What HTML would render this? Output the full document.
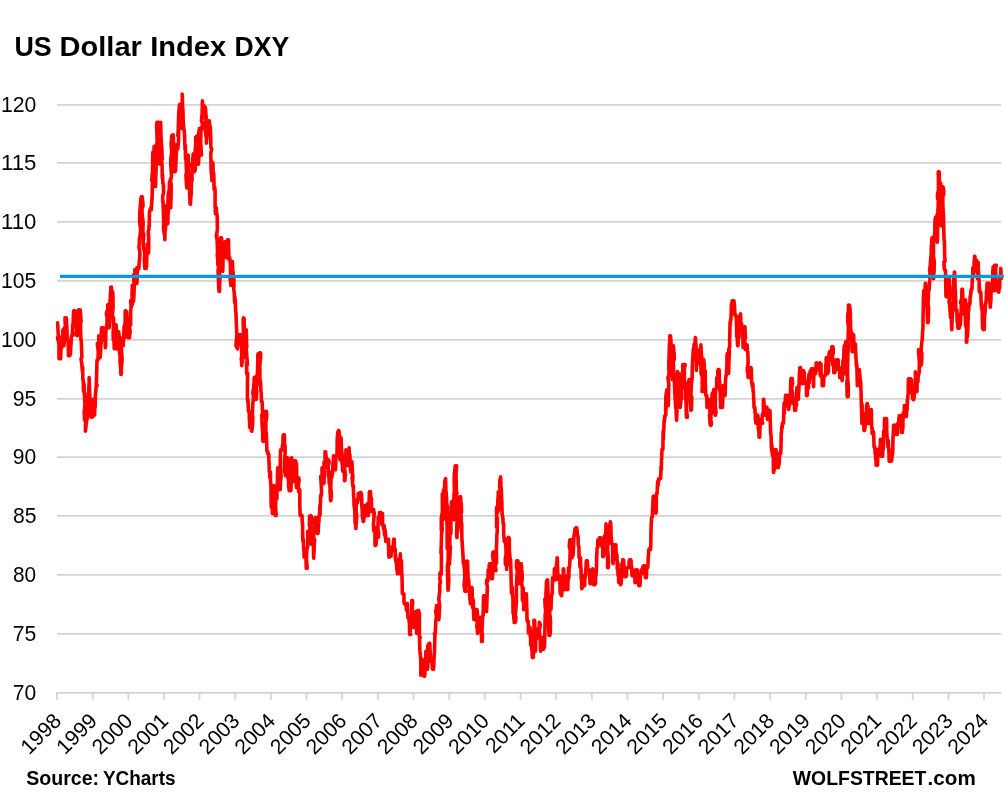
<!DOCTYPE html>
<html lang="en"><head><meta charset="utf-8"><title>US Dollar Index DXY</title>
<style>
html,body{margin:0;padding:0;background:#fff;}
body{width:1004px;height:804px;overflow:hidden;}
svg{display:block;}
text{font-family:"Liberation Sans",sans-serif;fill:#000;}
.b{font-weight:bold;}
</style></head><body>
<svg width="1004" height="804" viewBox="0 0 1004 804">
<rect width="1004" height="804" fill="#fff"/>
<g stroke="#d3d3d3" stroke-width="1.75" fill="none">
<line x1="57" x2="1001" y1="633.8" y2="633.8"/>
<line x1="57" x2="1001" y1="574.8" y2="574.8"/>
<line x1="57" x2="1001" y1="515.9" y2="515.9"/>
<line x1="57" x2="1001" y1="457.0" y2="457.0"/>
<line x1="57" x2="1001" y1="398.9" y2="398.9"/>
<line x1="57" x2="1001" y1="339.9" y2="339.9"/>
<line x1="57" x2="1001" y1="280.9" y2="280.9"/>
<line x1="57" x2="1001" y1="221.8" y2="221.8"/>
<line x1="57" x2="1001" y1="162.8" y2="162.8"/>
<line x1="57" x2="1001" y1="104.8" y2="104.8"/>
</g>
<g stroke="#d3d3d3" stroke-width="1.75" fill="none">
<line x1="56.05" x2="1001" y1="692.8" y2="692.8"/>
<line x1="57.0" x2="57.0" y1="692.8" y2="699.8"/>
<line x1="92.7" x2="92.7" y1="692.8" y2="699.8"/>
<line x1="128.3" x2="128.3" y1="692.8" y2="699.8"/>
<line x1="164.0" x2="164.0" y1="692.8" y2="699.8"/>
<line x1="199.6" x2="199.6" y1="692.8" y2="699.8"/>
<line x1="235.3" x2="235.3" y1="692.8" y2="699.8"/>
<line x1="270.9" x2="270.9" y1="692.8" y2="699.8"/>
<line x1="306.6" x2="306.6" y1="692.8" y2="699.8"/>
<line x1="342.2" x2="342.2" y1="692.8" y2="699.8"/>
<line x1="377.9" x2="377.9" y1="692.8" y2="699.8"/>
<line x1="413.5" x2="413.5" y1="692.8" y2="699.8"/>
<line x1="449.2" x2="449.2" y1="692.8" y2="699.8"/>
<line x1="484.8" x2="484.8" y1="692.8" y2="699.8"/>
<line x1="520.5" x2="520.5" y1="692.8" y2="699.8"/>
<line x1="556.2" x2="556.2" y1="692.8" y2="699.8"/>
<line x1="591.8" x2="591.8" y1="692.8" y2="699.8"/>
<line x1="627.5" x2="627.5" y1="692.8" y2="699.8"/>
<line x1="663.1" x2="663.1" y1="692.8" y2="699.8"/>
<line x1="698.8" x2="698.8" y1="692.8" y2="699.8"/>
<line x1="734.4" x2="734.4" y1="692.8" y2="699.8"/>
<line x1="770.1" x2="770.1" y1="692.8" y2="699.8"/>
<line x1="805.7" x2="805.7" y1="692.8" y2="699.8"/>
<line x1="841.4" x2="841.4" y1="692.8" y2="699.8"/>
<line x1="877.0" x2="877.0" y1="692.8" y2="699.8"/>
<line x1="912.7" x2="912.7" y1="692.8" y2="699.8"/>
<line x1="948.4" x2="948.4" y1="692.8" y2="699.8"/>
<line x1="984.0" x2="984.0" y1="692.8" y2="699.8"/>
</g>
<text class="b" y="56.4" font-size="28.2"><tspan x="14.43" textLength="37.30" lengthAdjust="spacingAndGlyphs">US</tspan> <tspan x="59.63" textLength="82.20" lengthAdjust="spacingAndGlyphs">Dollar</tspan> <tspan x="150.24" textLength="75.92" lengthAdjust="spacingAndGlyphs">Index</tspan> <tspan x="234.58" textLength="54.70" lengthAdjust="spacingAndGlyphs">DXY</tspan></text>
<text class="b" y="784.6" font-size="20"><tspan x="26.29" textLength="72.84" lengthAdjust="spacingAndGlyphs">Source:</tspan> <tspan x="102.88" textLength="72.63" lengthAdjust="spacingAndGlyphs">YCharts</tspan></text>
<text class="b" y="784.6" font-size="20"><tspan x="792.84" textLength="133.51" lengthAdjust="spacingAndGlyphs">WOLFSTREET</tspan><tspan x="927.64" textLength="48.13" lengthAdjust="spacingAndGlyphs">.com</tspan></text>
<text x="12.80" y="699.9" font-size="21.2" textLength="23.45" lengthAdjust="spacingAndGlyphs">70</text>
<text x="12.80" y="640.9" font-size="21.2" textLength="23.59" lengthAdjust="spacingAndGlyphs">75</text>
<text x="13.04" y="581.9" font-size="21.2" textLength="23.17" lengthAdjust="spacingAndGlyphs">80</text>
<text x="13.05" y="523.0" font-size="21.2" textLength="23.48" lengthAdjust="spacingAndGlyphs">85</text>
<text x="12.79" y="464.1" font-size="21.2" textLength="23.44" lengthAdjust="spacingAndGlyphs">90</text>
<text x="12.79" y="406.0" font-size="21.2" textLength="23.53" lengthAdjust="spacingAndGlyphs">95</text>
<text x="1.03" y="347.0" font-size="21.2" textLength="35.38" lengthAdjust="spacingAndGlyphs">100</text>
<text x="1.02" y="288.0" font-size="21.2" textLength="35.29" lengthAdjust="spacingAndGlyphs">105</text>
<text x="0.99" y="228.9" font-size="21.2" textLength="35.32" lengthAdjust="spacingAndGlyphs">110</text>
<text x="0.94" y="169.9" font-size="21.2" textLength="35.51" lengthAdjust="spacingAndGlyphs">115</text>
<text x="1.03" y="111.8" font-size="21.2" textLength="35.38" lengthAdjust="spacingAndGlyphs">120</text>
<g font-size="21.2" text-anchor="end">
<text transform="translate(62.6,722.1) rotate(-45)">1998</text>
<text transform="translate(98.3,722.1) rotate(-45)">1999</text>
<text transform="translate(133.9,722.1) rotate(-45)">2000</text>
<text transform="translate(169.6,722.1) rotate(-45)">2001</text>
<text transform="translate(205.2,722.1) rotate(-45)">2002</text>
<text transform="translate(240.9,722.1) rotate(-45)">2003</text>
<text transform="translate(276.5,722.1) rotate(-45)">2004</text>
<text transform="translate(312.2,722.1) rotate(-45)">2005</text>
<text transform="translate(347.8,722.1) rotate(-45)">2006</text>
<text transform="translate(383.5,722.1) rotate(-45)">2007</text>
<text transform="translate(419.1,722.1) rotate(-45)">2008</text>
<text transform="translate(454.8,722.1) rotate(-45)">2009</text>
<text transform="translate(490.4,722.1) rotate(-45)">2010</text>
<text transform="translate(526.1,722.1) rotate(-45)">2011</text>
<text transform="translate(561.8,722.1) rotate(-45)">2012</text>
<text transform="translate(597.4,722.1) rotate(-45)">2013</text>
<text transform="translate(633.1,722.1) rotate(-45)">2014</text>
<text transform="translate(668.7,722.1) rotate(-45)">2015</text>
<text transform="translate(704.4,722.1) rotate(-45)">2016</text>
<text transform="translate(740.0,722.1) rotate(-45)">2017</text>
<text transform="translate(775.7,722.1) rotate(-45)">2018</text>
<text transform="translate(811.3,722.1) rotate(-45)">2019</text>
<text transform="translate(847.0,722.1) rotate(-45)">2020</text>
<text transform="translate(882.6,722.1) rotate(-45)">2021</text>
<text transform="translate(918.3,722.1) rotate(-45)">2022</text>
<text transform="translate(954.0,722.1) rotate(-45)">2023</text>
<text transform="translate(989.6,722.1) rotate(-45)">2024</text>
</g>
<path d="M57.6,322.8 L57.9,327.6 L58.2,334.1 L58.5,337.4 L57.6,337.4 L57.8,339.7 L58.0,339.1 L59.0,344.3 L59.0,356.5 L59.0,358.6 L59.1,357.4 L59.3,358.6 L59.5,358.6 L59.6,358.6 L59.8,358.6 L60.0,358.6 L60.1,358.6 L60.3,358.6 L60.4,358.6 L60.6,358.6 L60.8,355.6 L60.9,347.7 L61.1,347.7 L61.3,343.0 L61.4,346.4 L61.6,347.7 L61.8,347.7 L61.9,337.8 L62.1,336.7 L62.3,338.3 L62.4,340.7 L62.6,334.1 L62.8,333.3 L62.9,329.8 L63.1,329.8 L63.3,337.0 L63.4,335.4 L63.6,338.2 L63.8,345.7 L63.9,345.7 L64.2,342.7 L64.5,341.0 L64.7,339.0 L64.2,330.0 L64.3,328.1 L64.4,333.2 L65.6,322.4 L65.8,324.8 L65.9,323.1 L65.0,317.8 L65.3,325.9 L65.5,327.8 L66.2,318.9 L66.3,317.8 L66.3,317.8 L66.5,318.7 L66.6,324.3 L66.8,325.8 L67.0,331.4 L67.1,339.7 L67.3,339.4 L67.4,339.7 L67.6,339.7 L67.8,339.7 L67.9,339.7 L68.1,339.9 L68.2,342.2 L68.4,350.6 L68.5,355.6 L68.7,355.6 L68.8,355.4 L69.0,355.6 L69.1,354.8 L69.3,355.6 L69.5,353.0 L69.6,355.6 L69.8,355.6 L69.9,355.5 L70.1,351.4 L70.3,347.9 L70.4,354.1 L70.6,349.6 L70.7,345.9 L70.9,345.7 L71.1,343.5 L71.2,341.0 L71.4,335.7 L71.5,335.7 L71.7,335.7 L71.8,335.7 L72.0,335.7 L72.1,335.7 L72.3,335.7 L72.7,331.6 L73.1,335.2 L73.3,333.0 L72.4,334.0 L72.7,324.6 L73.1,324.3 L73.5,312.8 L73.6,310.8 L73.8,310.8 L73.9,310.8 L74.1,310.8 L74.3,312.0 L74.4,310.8 L74.6,310.8 L74.7,310.8 L74.9,310.8 L75.2,312.3 L75.5,313.6 L75.8,319.8 L75.1,325.1 L75.2,321.8 L75.3,323.8 L76.6,326.4 L76.7,323.0 L76.8,326.8 L76.3,324.5 L76.6,332.3 L76.9,335.7 L77.2,335.7 L77.5,334.6 L77.8,334.8 L77.0,324.6 L77.1,319.2 L77.3,322.0 L78.4,312.8 L78.5,316.6 L78.5,312.8 L78.5,312.8 L78.6,309.9 L78.8,311.1 L78.9,311.1 L79.1,309.9 L79.3,309.9 L79.4,312.8 L79.6,312.8 L79.8,312.1 L79.9,310.6 L80.1,309.9 L80.2,309.9 L80.6,313.4 L80.9,319.6 L81.1,321.7 L80.2,324.8 L80.5,324.3 L80.8,337.7 L81.3,341.9 L81.7,352.2 L81.9,357.3 L81.0,358.5 L81.4,361.7 L81.8,363.6 L82.0,367.4 L82.2,369.1 L82.3,371.2 L82.5,367.3 L82.7,366.7 L82.8,379.5 L83.0,379.5 L83.1,379.5 L83.3,381.9 L83.5,391.4 L83.6,388.3 L83.8,390.5 L83.9,390.4 L84.1,384.1 L84.2,391.4 L84.5,396.9 L84.8,402.9 L85.1,404.4 L84.2,412.5 L84.4,415.1 L84.5,419.9 L85.5,419.4 L85.5,418.3 L85.4,431.2 L85.6,427.7 L85.7,428.6 L85.9,427.7 L86.0,424.6 L86.2,421.1 L86.4,423.8 L86.5,421.4 L86.7,419.9 L86.8,419.3 L87.0,419.3 L87.1,419.3 L87.3,418.3 L87.5,410.7 L87.6,399.4 L87.8,399.4 L88.0,399.4 L88.1,394.5 L88.3,392.8 L88.4,392.4 L88.6,392.3 L88.7,392.6 L88.9,385.4 L89.0,389.1 L89.2,377.5 L89.4,383.2 L89.5,386.9 L89.7,392.7 L89.9,399.4 L90.1,399.4 L90.2,399.4 L90.4,399.4 L90.6,409.7 L90.7,410.0 L90.9,415.8 L91.1,417.3 L91.2,417.3 L91.4,417.3 L91.5,417.3 L91.7,417.3 L91.9,417.3 L92.0,417.3 L92.2,417.3 L92.3,411.4 L92.5,411.6 L92.6,407.3 L92.8,399.4 L92.9,406.6 L93.1,410.7 L93.2,416.3 L93.4,416.3 L93.5,412.8 L93.7,407.4 L93.8,407.4 L94.0,407.4 L94.2,407.4 L94.3,407.4 L94.5,407.4 L94.6,414.9 L94.8,407.4 L94.9,407.4 L95.1,407.4 L95.2,405.6 L95.4,395.6 L95.6,391.1 L95.7,393.1 L95.9,390.7 L96.0,389.1 L96.2,385.5 L96.6,385.5 L96.9,385.5 L97.2,385.5 L96.3,384.6 L96.6,376.0 L97.0,360.3 L97.4,359.6 L97.7,359.6 L98.0,359.6 L98.3,351.7 L97.4,343.5 L97.6,346.7 L97.8,344.6 L98.8,341.8 L98.8,338.5 L98.8,335.7 L98.9,342.6 L99.1,348.0 L99.2,351.6 L99.4,348.3 L99.5,353.5 L99.7,352.1 L99.8,357.6 L100.0,356.0 L100.1,357.6 L100.6,352.2 L100.9,339.5 L101.2,343.5 L100.3,346.2 L100.6,338.2 L100.9,337.1 L101.3,333.7 L101.5,327.8 L101.7,327.8 L101.8,327.8 L102.0,327.8 L102.2,327.8 L102.3,327.8 L102.5,327.8 L102.7,327.8 L102.8,327.8 L103.0,327.8 L103.2,330.7 L103.3,327.8 L103.5,327.8 L103.7,327.8 L103.8,327.8 L104.0,330.1 L104.2,335.2 L104.3,339.0 L104.5,339.8 L104.7,341.1 L104.8,339.8 L105.0,338.8 L105.2,339.2 L105.3,347.7 L105.5,346.1 L105.7,341.2 L105.8,333.4 L106.0,327.8 L106.2,329.6 L106.3,327.8 L106.7,326.4 L107.0,322.7 L107.3,314.9 L106.4,312.8 L106.6,315.9 L106.8,312.0 L107.8,309.0 L107.7,306.0 L107.7,304.9 L108.1,304.9 L108.4,304.9 L108.7,304.9 L107.8,308.5 L107.9,307.7 L108.2,314.2 L109.1,326.0 L109.1,327.7 L109.1,327.8 L109.5,323.6 L109.9,318.4 L110.2,307.7 L109.3,305.0 L109.5,310.9 L109.9,304.2 L110.3,297.9 L110.5,291.9 L110.6,293.3 L110.8,287.0 L111.0,287.0 L111.2,287.0 L111.3,287.0 L111.5,287.0 L111.7,291.9 L111.8,291.9 L112.0,291.9 L112.2,291.9 L112.3,291.9 L112.5,291.9 L112.7,291.9 L112.9,294.0 L113.1,306.8 L112.3,316.7 L112.3,316.1 L112.4,316.0 L113.5,317.9 L113.5,324.1 L113.4,327.6 L113.1,333.4 L113.3,339.7 L113.4,339.7 L113.6,339.7 L113.7,339.9 L113.9,339.8 L114.1,342.8 L114.2,348.7 L114.4,348.7 L114.5,348.7 L114.7,348.7 L115.0,348.7 L115.3,340.1 L115.6,332.3 L114.8,337.0 L114.9,340.8 L115.1,340.0 L116.1,330.6 L116.1,328.5 L116.1,324.8 L116.4,331.4 L116.7,346.9 L117.0,348.7 L116.2,348.7 L116.3,346.6 L116.5,348.7 L117.6,348.7 L117.7,348.2 L117.7,348.7 L117.7,348.7 L117.8,348.7 L118.0,348.7 L118.2,348.7 L118.3,341.1 L118.5,338.2 L118.7,331.7 L119.0,335.2 L119.3,338.9 L119.6,337.4 L118.7,335.1 L118.9,345.0 L119.1,349.6 L120.1,356.4 L120.1,363.6 L120.0,363.6 L120.2,363.6 L120.4,364.3 L120.6,368.4 L120.7,368.4 L120.9,374.5 L121.1,374.5 L121.2,374.5 L121.6,363.9 L121.9,362.9 L122.1,359.9 L121.2,345.7 L121.4,346.0 L121.7,345.7 L122.0,345.7 L122.2,343.0 L122.4,340.8 L122.5,337.7 L122.7,345.7 L122.8,345.7 L123.0,345.7 L123.2,345.7 L123.3,345.7 L123.5,340.4 L123.6,337.7 L124.0,337.7 L124.3,333.4 L124.6,337.7 L123.7,337.7 L123.9,331.1 L124.1,326.9 L125.2,322.9 L125.2,321.2 L125.2,316.8 L125.2,310.8 L125.4,311.8 L125.5,310.8 L125.7,310.8 L125.8,310.8 L126.0,311.8 L126.2,311.4 L126.3,311.8 L126.5,311.8 L126.6,311.8 L127.0,318.9 L127.3,318.3 L127.6,328.9 L126.7,327.0 L126.8,331.4 L127.1,332.5 L128.1,330.7 L128.0,336.2 L128.0,337.7 L128.2,337.7 L128.4,337.7 L128.5,337.7 L128.7,337.7 L128.9,337.7 L129.0,337.7 L129.2,337.7 L129.5,337.7 L129.9,329.1 L130.1,333.2 L129.3,327.8 L129.4,318.4 L129.7,318.6 L130.6,325.2 L130.6,317.3 L130.6,311.8 L130.9,308.7 L131.2,303.5 L131.5,306.6 L130.7,303.1 L130.8,300.2 L131.0,304.4 L132.2,301.2 L132.3,304.6 L132.3,300.2 L132.0,294.5 L132.3,285.4 L132.5,294.9 L132.7,292.4 L132.9,292.9 L133.0,292.0 L133.2,292.1 L133.4,291.6 L133.5,301.3 L133.9,295.8 L134.2,287.4 L134.5,282.0 L133.6,274.9 L133.8,279.2 L134.0,283.9 L135.0,278.7 L135.0,271.3 L134.9,269.5 L135.1,279.7 L135.3,269.5 L135.4,272.1 L135.6,269.5 L135.8,277.0 L135.9,273.6 L136.1,274.5 L136.3,269.5 L136.4,269.5 L136.6,276.1 L136.7,283.1 L136.9,283.4 L137.1,278.0 L137.2,267.5 L137.4,267.5 L137.6,267.5 L137.7,267.5 L137.9,267.5 L138.1,267.5 L138.2,267.5 L138.4,267.5 L138.6,267.5 L138.7,268.9 L138.9,267.5 L139.3,261.1 L139.6,258.6 L139.9,253.1 L138.9,246.9 L139.2,244.4 L139.5,237.7 L139.9,237.7 L140.2,234.2 L140.4,232.6 L140.6,228.7 L139.6,221.8 L139.8,213.6 L140.0,209.4 L140.6,203.5 L140.5,201.8 L140.7,201.8 L140.8,199.4 L141.0,201.8 L141.1,197.4 L141.3,196.9 L141.5,197.5 L141.6,196.9 L141.8,196.9 L142.0,196.9 L142.1,196.9 L142.3,196.9 L142.5,200.8 L142.8,201.3 L143.0,205.8 L142.0,208.7 L142.1,215.2 L142.2,214.5 L143.1,221.8 L143.0,228.5 L142.9,233.7 L143.2,234.1 L143.5,239.9 L143.8,233.7 L143.1,239.0 L143.2,243.1 L143.3,247.5 L144.6,252.4 L144.7,251.6 L144.8,253.0 L144.3,259.4 L144.6,264.6 L144.9,268.5 L145.0,260.9 L145.2,264.6 L145.4,268.5 L145.5,268.5 L145.7,268.5 L145.9,268.5 L146.0,268.5 L146.2,268.5 L146.4,264.7 L146.5,267.5 L146.7,260.0 L146.9,253.6 L147.2,247.0 L147.5,250.9 L147.8,245.8 L147.1,244.2 L147.2,250.7 L147.3,253.6 L148.6,252.7 L148.7,248.3 L148.7,238.3 L148.2,231.4 L148.5,230.6 L148.9,229.7 L149.0,225.5 L149.2,226.2 L149.4,217.2 L149.5,212.1 L149.7,211.4 L149.9,209.8 L150.0,209.8 L150.2,209.8 L150.3,209.8 L150.5,209.8 L150.7,209.8 L150.8,207.8 L151.0,209.8 L151.2,209.8 L151.3,209.8 L151.5,205.8 L151.7,204.5 L151.8,201.8 L152.2,195.2 L152.4,180.8 L152.6,177.1 L151.6,180.1 L151.8,180.3 L152.1,175.1 L152.4,173.1 L152.5,173.1 L152.7,155.7 L152.8,152.2 L153.0,152.2 L153.1,152.2 L153.3,152.2 L153.4,152.2 L153.6,152.2 L153.7,152.2 L153.9,152.2 L154.0,150.1 L154.2,146.2 L154.4,152.7 L154.7,165.1 L154.9,165.8 L154.0,167.1 L154.1,169.7 L154.2,178.7 L155.3,180.1 L155.2,186.5 L155.2,186.0 L155.1,186.5 L155.2,183.7 L155.4,186.4 L155.5,186.5 L155.7,180.4 L155.8,173.7 L156.0,173.9 L156.1,168.6 L156.3,155.8 L156.6,157.2 L156.7,155.5 L155.9,153.8 L155.9,146.8 L156.0,148.1 L157.1,142.4 L157.1,144.0 L157.0,134.7 L156.6,125.6 L156.9,122.3 L157.0,122.3 L157.2,122.3 L157.4,122.3 L157.5,122.3 L157.7,122.3 L157.8,122.3 L158.0,122.3 L158.2,122.3 L158.3,122.3 L158.5,122.3 L158.7,122.3 L158.9,137.0 L159.2,141.1 L159.4,146.1 L158.5,158.2 L158.6,161.3 L158.7,159.7 L159.7,164.0 L159.7,164.1 L159.6,164.1 L159.6,164.1 L159.8,153.1 L160.1,153.6 L160.3,146.3 L159.4,142.4 L159.5,140.5 L159.7,140.8 L160.7,135.8 L160.7,135.4 L160.7,127.4 L160.6,122.3 L160.7,122.3 L160.9,132.9 L161.0,137.7 L161.2,138.7 L161.3,141.7 L161.8,148.1 L162.2,159.5 L162.3,158.3 L161.6,160.1 L162.1,165.6 L162.2,176.3 L162.4,178.4 L162.5,174.6 L162.7,175.4 L162.8,183.5 L163.2,184.0 L163.4,183.8 L163.6,192.3 L162.6,196.9 L162.8,202.4 L163.1,201.4 L163.4,213.8 L163.7,224.7 L164.0,229.4 L164.3,234.7 L163.5,225.1 L163.6,230.2 L163.8,230.7 L164.8,234.7 L164.8,239.7 L164.8,239.7 L165.1,229.1 L165.4,230.0 L165.7,224.7 L164.9,221.7 L165.0,217.1 L165.2,214.1 L166.2,205.8 L166.2,205.8 L166.2,205.8 L166.3,215.3 L166.5,223.7 L166.6,223.7 L166.8,223.7 L167.0,223.7 L167.1,221.7 L167.3,222.3 L167.4,223.7 L167.6,218.5 L167.8,223.7 L168.1,212.7 L168.4,211.7 L168.7,208.4 L167.9,204.0 L168.0,200.9 L168.2,195.3 L169.3,189.2 L169.4,181.9 L169.4,181.9 L169.4,181.9 L169.7,193.0 L170.0,200.4 L170.3,204.4 L169.4,200.9 L169.6,207.8 L169.8,207.8 L170.8,207.8 L170.8,207.2 L170.7,207.8 L170.9,200.9 L171.1,195.9 L171.2,185.4 L170.4,178.9 L170.3,186.9 L170.3,182.0 L171.5,176.1 L171.4,174.5 L171.4,173.9 L170.7,163.3 L170.9,158.1 L171.0,158.1 L171.4,154.6 L171.8,150.2 L172.0,153.8 L171.1,145.0 L171.4,140.5 L171.7,135.7 L172.1,135.7 L172.3,135.0 L172.4,135.0 L172.6,135.0 L172.8,135.0 L172.9,135.0 L173.1,135.7 L173.3,135.0 L173.6,146.4 L173.8,152.0 L174.0,155.5 L173.1,165.7 L173.2,167.9 L173.3,163.7 L174.2,168.9 L174.1,167.9 L174.0,171.6 L174.2,171.6 L174.4,171.6 L174.5,171.6 L174.7,171.6 L174.9,171.6 L175.0,171.6 L175.2,171.6 L175.4,170.1 L175.5,170.1 L175.9,163.6 L176.3,149.9 L176.5,150.8 L175.6,147.3 L175.8,146.4 L176.2,144.7 L176.6,144.7 L176.7,144.9 L176.9,149.2 L177.1,149.2 L177.2,149.2 L177.4,149.2 L177.6,149.2 L177.8,149.2 L178.2,144.1 L178.5,141.6 L178.7,130.4 L177.8,135.7 L178.1,132.6 L178.5,122.3 L178.7,113.1 L178.8,111.7 L179.0,111.4 L179.2,107.7 L179.3,108.4 L179.5,105.0 L179.7,108.2 L179.8,104.4 L180.0,104.4 L180.5,113.2 L180.8,128.3 L181.0,128.3 L180.3,128.3 L180.7,128.3 L181.1,128.3 L181.4,127.0 L181.7,124.7 L180.9,124.9 L181.0,119.9 L181.3,115.0 L182.3,112.7 L182.3,101.5 L182.2,94.0 L182.4,98.2 L182.5,105.6 L182.7,111.1 L182.8,107.9 L183.0,111.9 L183.1,118.7 L183.3,124.2 L183.4,126.3 L183.6,123.8 L183.7,129.8 L183.9,129.8 L184.1,129.8 L184.2,129.8 L184.4,132.9 L184.6,136.4 L184.8,144.7 L184.9,144.7 L185.1,149.8 L185.2,146.3 L185.4,145.4 L185.5,158.9 L185.7,159.6 L185.8,159.6 L186.0,159.6 L186.3,166.1 L186.6,177.5 L186.8,179.5 L185.9,174.7 L186.1,177.9 L186.4,182.7 L186.7,188.0 L187.1,188.0 L187.4,183.0 L187.7,180.4 L186.8,167.4 L187.0,165.1 L187.2,169.7 L188.2,166.9 L188.2,161.3 L188.2,155.1 L188.6,166.7 L189.0,163.4 L189.3,164.6 L188.4,168.9 L188.6,174.7 L189.0,174.1 L189.4,177.5 L189.8,181.0 L190.1,186.7 L190.4,191.0 L189.5,189.8 L189.7,194.7 L190.1,204.3 L190.4,204.3 L190.8,197.4 L191.1,195.4 L191.4,184.0 L190.6,179.4 L190.7,174.6 L191.0,174.6 L192.0,175.8 L192.0,181.3 L191.9,174.6 L192.1,174.0 L192.3,170.0 L192.4,165.9 L192.6,169.8 L192.8,157.9 L192.9,159.1 L193.1,154.2 L193.3,157.3 L193.4,153.7 L193.6,153.9 L193.7,159.4 L193.9,167.4 L194.0,171.6 L194.2,171.6 L194.3,171.6 L194.5,171.6 L194.8,171.2 L195.2,169.7 L195.4,165.2 L194.5,160.3 L194.7,160.6 L195.0,152.8 L195.7,143.6 L195.7,137.2 L195.8,137.2 L196.0,137.2 L196.2,137.2 L196.3,137.2 L196.5,136.1 L196.7,137.2 L196.8,137.2 L197.0,137.1 L197.2,135.7 L197.6,142.9 L197.9,151.6 L198.2,151.3 L197.3,155.6 L197.6,161.6 L197.9,160.1 L198.4,164.1 L198.7,160.0 L199.0,153.2 L199.3,146.6 L198.3,143.0 L198.5,139.3 L198.8,132.3 L199.5,128.3 L199.4,128.3 L199.8,129.3 L200.1,133.9 L200.4,140.3 L199.5,143.4 L199.7,155.1 L200.1,150.9 L200.4,155.1 L200.9,148.4 L201.2,153.6 L201.5,155.1 L200.6,142.2 L200.9,131.8 L201.2,130.4 L201.6,129.8 L202.0,129.3 L202.3,124.4 L202.5,122.4 L201.5,121.4 L201.7,116.5 L202.0,117.6 L202.4,100.7 L202.5,107.5 L202.7,105.1 L202.8,113.7 L203.0,115.7 L203.1,114.2 L203.3,117.8 L203.4,117.8 L203.6,111.9 L203.7,105.9 L203.9,105.9 L204.0,105.9 L204.2,107.6 L204.3,105.9 L204.5,107.4 L204.6,107.4 L204.8,107.1 L204.9,107.4 L205.1,107.4 L205.2,107.4 L205.4,107.4 L205.7,111.2 L206.0,116.4 L206.3,116.2 L205.3,126.5 L205.5,129.1 L205.8,136.3 L206.5,136.5 L206.4,143.2 L206.8,138.7 L207.2,129.7 L207.5,134.1 L206.6,129.5 L206.8,132.6 L207.2,131.1 L207.6,120.8 L207.8,120.8 L208.0,120.8 L208.1,120.8 L208.3,120.8 L208.5,120.8 L208.6,120.8 L208.8,120.8 L209.0,120.8 L209.1,120.8 L209.3,120.8 L209.4,120.8 L209.6,124.1 L209.7,126.8 L209.9,126.8 L210.0,126.8 L210.1,126.8 L210.3,126.8 L210.4,126.8 L210.6,136.7 L210.7,137.5 L210.9,147.7 L211.2,147.7 L211.5,148.4 L211.7,149.9 L210.8,152.8 L210.9,159.3 L211.2,172.2 L211.9,176.6 L211.8,180.5 L211.9,172.7 L212.1,173.4 L212.2,169.6 L212.4,171.6 L212.5,168.9 L212.7,176.0 L212.8,162.6 L213.0,164.8 L213.1,173.4 L213.3,175.2 L213.4,174.6 L213.6,176.9 L213.7,173.1 L213.9,177.5 L214.1,189.5 L214.2,189.5 L214.4,189.5 L214.6,188.8 L214.7,187.2 L214.9,189.5 L215.1,189.5 L215.1,207.8 L215.3,207.8 L215.4,213.8 L215.6,213.8 L215.7,213.8 L215.9,213.8 L216.1,213.8 L216.2,213.8 L216.4,207.8 L216.5,213.8 L216.9,213.8 L217.2,216.8 L217.4,229.0 L216.4,237.4 L216.7,233.0 L217.1,239.7 L217.5,251.0 L217.9,252.0 L218.1,251.8 L217.2,256.2 L217.5,252.4 L217.9,265.5 L218.3,265.5 L218.7,265.5 L219.0,265.5 L218.1,270.2 L218.3,277.7 L218.7,285.9 L219.1,291.4 L219.5,291.4 L219.8,280.4 L220.1,277.6 L219.1,270.9 L219.4,268.9 L219.7,267.3 L220.1,259.6 L220.3,250.2 L220.4,248.8 L220.6,244.9 L220.7,237.7 L220.9,240.8 L221.0,247.7 L221.2,237.7 L221.3,237.7 L221.5,237.7 L221.9,246.3 L222.2,251.9 L222.4,255.1 L221.5,256.4 L221.7,259.6 L222.0,260.9 L222.7,269.3 L222.7,271.5 L222.9,267.0 L223.0,258.3 L223.2,256.0 L223.4,249.6 L223.5,249.6 L223.7,249.6 L223.9,249.6 L224.0,249.6 L224.2,249.6 L224.4,249.6 L224.5,249.0 L224.7,246.1 L224.8,249.1 L225.0,241.9 L225.2,248.0 L225.3,247.0 L225.5,241.6 L225.6,244.6 L225.8,246.6 L225.9,253.1 L226.1,254.8 L226.2,257.6 L226.4,257.6 L226.6,257.6 L226.7,257.6 L226.9,257.6 L227.0,252.7 L227.2,253.9 L227.3,252.8 L227.5,240.8 L227.7,239.7 L227.8,239.7 L228.0,239.7 L228.1,239.7 L228.3,239.7 L228.5,239.7 L228.6,249.1 L228.8,252.2 L228.9,256.5 L229.1,259.6 L229.2,259.6 L229.4,257.8 L229.5,259.6 L229.7,257.5 L229.9,259.6 L230.3,262.8 L230.7,278.4 L230.9,276.4 L230.0,278.5 L230.4,280.3 L230.8,285.4 L231.2,285.4 L231.5,285.4 L231.8,282.8 L231.0,273.3 L231.1,267.8 L231.3,270.4 L232.4,270.2 L232.4,264.2 L232.4,261.8 L232.4,261.5 L232.8,269.9 L233.1,272.1 L233.4,276.3 L232.5,271.8 L232.7,271.0 L232.9,285.5 L233.9,279.0 L233.9,282.7 L233.8,289.4 L234.0,291.4 L234.1,291.1 L234.3,294.8 L234.5,298.9 L234.6,302.5 L234.8,296.3 L234.9,299.5 L235.1,298.9 L235.3,300.0 L235.4,305.3 L235.6,309.1 L235.7,311.9 L235.9,311.9 L236.2,318.8 L236.5,327.1 L236.8,335.1 L236.0,344.5 L236.1,345.5 L236.3,346.3 L237.4,348.8 L237.5,346.9 L237.5,348.8 L237.5,348.8 L237.6,346.3 L237.8,336.2 L237.9,334.8 L238.1,334.8 L238.3,334.8 L238.4,339.7 L238.6,338.8 L238.7,337.3 L238.9,334.8 L239.1,334.8 L239.2,334.8 L239.4,335.0 L239.5,344.2 L239.7,343.5 L239.9,334.8 L240.2,334.8 L240.5,334.8 L240.7,334.8 L240.0,337.9 L240.1,342.9 L240.3,338.3 L241.5,345.7 L241.7,356.5 L241.7,358.3 L241.2,358.4 L241.5,360.3 L241.8,365.7 L242.1,362.1 L242.4,361.6 L242.7,361.2 L241.9,360.7 L242.0,361.1 L242.2,357.7 L243.4,342.2 L243.4,334.4 L243.4,329.1 L243.1,320.0 L243.4,317.9 L243.8,319.8 L244.1,318.6 L244.4,330.4 L243.5,337.9 L243.7,343.0 L243.9,351.9 L244.9,357.7 L244.9,357.7 L244.8,357.7 L245.3,350.5 L245.6,344.4 L245.9,335.5 L245.0,333.0 L245.4,336.1 L245.8,329.9 L246.3,329.9 L246.6,344.3 L246.9,346.6 L246.0,344.5 L246.4,350.6 L246.8,357.7 L247.0,357.7 L247.3,364.3 L247.4,364.7 L246.5,362.6 L246.6,366.7 L246.7,373.9 L247.7,373.5 L247.6,378.4 L247.5,380.9 L247.4,399.5 L247.6,399.5 L247.7,402.1 L247.9,401.2 L248.0,399.9 L248.2,403.3 L248.3,407.7 L248.5,411.4 L248.7,411.4 L248.8,411.4 L249.0,411.4 L249.1,411.4 L249.3,413.1 L249.4,420.4 L249.6,422.2 L249.7,427.4 L249.9,427.4 L250.0,427.4 L250.2,427.4 L250.4,427.4 L250.5,427.4 L250.7,427.4 L250.8,427.4 L251.0,427.4 L251.2,427.4 L251.3,430.2 L251.5,431.3 L251.6,431.3 L251.8,431.3 L252.2,427.5 L252.6,424.2 L252.8,417.0 L252.0,412.6 L252.3,417.1 L252.8,403.5 L253.1,402.0 L253.4,394.2 L253.7,392.3 L252.9,394.0 L253.0,390.9 L253.2,392.2 L254.2,380.6 L254.2,383.8 L254.2,377.6 L254.3,383.3 L254.5,386.6 L254.7,377.6 L254.8,377.6 L255.0,377.6 L255.1,387.2 L255.3,391.1 L255.5,394.8 L255.6,389.3 L255.8,399.5 L256.1,399.5 L256.4,398.4 L256.7,391.6 L255.9,377.1 L256.0,376.3 L256.2,385.6 L257.3,383.9 L257.4,385.3 L257.4,382.7 L257.4,371.6 L257.5,371.6 L257.7,362.7 L257.8,356.8 L258.0,353.7 L258.2,353.7 L258.3,353.7 L258.5,353.7 L258.6,353.7 L258.8,353.7 L259.0,353.7 L259.1,353.7 L259.3,353.7 L259.4,353.7 L259.6,353.7 L259.8,352.7 L260.1,352.7 L260.5,352.7 L260.7,356.6 L259.8,365.3 L260.0,382.7 L260.4,380.9 L260.7,383.6 L260.9,391.1 L261.1,392.3 L261.2,393.0 L261.4,401.5 L261.6,401.5 L261.7,401.5 L262.1,401.5 L262.4,408.6 L262.6,416.5 L261.7,415.2 L261.9,416.0 L262.1,425.2 L262.8,434.6 L262.7,437.3 L262.9,441.3 L263.0,441.3 L263.2,440.4 L263.4,440.8 L263.5,441.3 L263.7,441.3 L263.8,437.3 L264.0,437.3 L264.1,441.3 L264.5,441.3 L264.8,427.9 L265.1,437.3 L264.2,426.1 L264.4,426.4 L264.6,428.2 L265.7,428.6 L265.7,424.4 L265.7,413.0 L265.7,411.4 L266.1,411.4 L266.4,411.4 L266.7,416.5 L265.8,422.9 L266.0,435.3 L266.3,432.8 L266.7,443.3 L266.9,451.2 L267.0,451.2 L267.2,451.2 L267.4,451.2 L267.5,451.2 L267.7,451.2 L267.9,453.8 L268.1,453.8 L268.2,453.8 L268.4,453.8 L268.5,453.8 L268.7,453.8 L268.8,455.0 L269.0,463.2 L269.1,464.0 L269.3,471.7 L269.5,471.7 L269.6,471.7 L269.8,477.8 L269.9,473.4 L270.1,474.2 L270.3,471.7 L270.4,472.4 L270.6,483.8 L270.7,482.0 L270.9,485.7 L271.2,485.7 L271.6,485.7 L271.8,485.7 L271.0,486.4 L271.1,502.0 L271.3,507.4 L272.3,506.1 L272.3,512.7 L272.3,513.5 L272.7,513.5 L273.1,512.7 L273.3,510.8 L272.4,510.8 L272.7,504.2 L273.1,498.5 L273.5,485.7 L273.8,487.5 L274.1,485.7 L274.4,487.5 L273.6,486.5 L273.8,491.3 L273.9,498.1 L275.1,494.6 L275.2,494.4 L275.2,493.5 L275.0,501.9 L275.3,515.5 L275.6,515.5 L275.9,511.2 L276.2,515.5 L275.4,503.9 L275.5,508.6 L275.7,501.5 L276.8,489.7 L276.9,493.7 L276.9,498.9 L276.9,489.7 L277.0,488.4 L277.2,485.1 L277.4,483.5 L277.5,473.2 L277.7,467.8 L277.9,467.8 L278.0,470.7 L278.2,479.1 L278.3,481.3 L278.5,489.7 L278.7,489.7 L278.8,489.7 L279.0,488.2 L279.1,483.1 L279.3,489.7 L279.5,488.7 L279.6,489.7 L279.8,489.7 L279.9,489.7 L280.1,489.7 L280.2,489.7 L280.6,480.5 L280.9,478.2 L281.1,475.4 L280.2,465.8 L280.4,454.3 L280.6,449.9 L281.5,449.9 L281.5,449.9 L281.4,449.9 L281.6,449.9 L281.8,449.9 L281.9,449.9 L282.1,449.9 L282.2,448.2 L282.4,445.9 L282.5,445.9 L282.7,445.9 L282.8,445.9 L283.0,439.9 L283.2,435.0 L283.3,434.9 L283.5,434.9 L283.6,434.9 L283.8,434.9 L284.0,435.5 L284.1,439.9 L284.3,434.9 L284.4,434.9 L284.7,450.8 L285.0,445.0 L285.2,452.4 L284.3,462.7 L284.4,466.0 L284.5,471.1 L285.6,475.7 L285.5,475.7 L285.5,475.7 L285.4,475.7 L285.6,468.9 L285.7,462.5 L285.9,458.7 L286.0,457.8 L286.2,457.8 L286.4,457.8 L286.5,457.8 L286.7,457.8 L286.8,457.8 L287.0,457.8 L287.1,457.8 L287.3,461.9 L287.4,465.4 L287.6,457.8 L287.7,462.5 L287.9,477.7 L288.1,470.9 L288.2,477.7 L288.4,480.2 L288.5,479.9 L288.7,488.0 L288.8,481.7 L289.0,483.0 L289.1,490.6 L289.3,490.6 L289.5,488.9 L289.6,489.9 L289.8,487.7 L289.9,490.6 L290.1,490.6 L290.2,490.6 L290.4,490.6 L290.7,490.6 L291.0,490.0 L291.3,473.5 L290.3,471.6 L290.5,463.7 L290.8,459.2 L291.5,466.0 L291.4,457.8 L291.7,457.8 L292.1,460.8 L292.3,461.8 L291.5,470.9 L291.6,473.2 L291.8,468.6 L292.8,468.6 L292.8,476.0 L292.8,481.7 L293.0,479.8 L293.1,478.3 L293.3,475.8 L293.4,470.6 L293.6,479.7 L293.8,477.9 L293.9,469.6 L294.1,465.1 L294.3,467.3 L294.4,469.1 L294.6,466.4 L294.8,460.8 L295.1,462.2 L295.4,460.8 L295.7,460.8 L295.0,460.8 L295.1,460.8 L295.2,460.8 L296.5,463.8 L296.6,468.7 L296.7,470.1 L296.2,483.4 L296.5,487.7 L296.8,487.7 L296.9,487.7 L297.1,487.7 L297.2,487.7 L297.4,487.7 L297.5,487.7 L297.7,481.1 L297.8,480.6 L298.0,479.6 L298.2,477.7 L298.5,477.7 L298.8,477.7 L299.1,480.1 L298.3,485.3 L298.4,483.5 L298.6,491.7 L299.7,489.5 L299.8,492.8 L299.8,504.9 L299.8,505.6 L299.9,505.9 L300.1,515.2 L300.2,515.5 L300.4,515.5 L300.5,515.5 L300.7,515.5 L300.9,515.5 L301.0,515.5 L301.2,515.5 L301.3,515.5 L301.5,515.5 L301.7,515.5 L301.8,516.3 L302.0,515.5 L302.1,517.8 L302.3,522.9 L302.4,521.7 L302.6,525.3 L302.7,537.4 L302.9,541.5 L303.0,540.2 L303.2,542.1 L303.4,539.2 L303.5,542.9 L303.7,550.1 L303.8,547.7 L304.0,548.8 L304.1,557.3 L304.3,557.3 L304.4,557.3 L304.6,557.3 L304.8,557.3 L304.9,557.3 L305.1,557.3 L305.2,557.3 L305.4,557.3 L305.5,557.3 L305.7,557.3 L305.8,557.3 L306.0,557.3 L306.2,566.7 L306.3,568.3 L306.7,568.3 L307.0,568.3 L307.3,568.3 L306.4,558.8 L306.6,554.5 L306.8,550.5 L307.8,545.6 L307.7,531.4 L307.7,531.4 L307.9,532.2 L308.0,532.6 L308.2,534.1 L308.3,535.7 L308.5,540.8 L308.7,536.7 L308.8,534.5 L309.0,538.9 L309.1,542.6 L309.3,543.4 L309.6,536.3 L310.0,527.8 L310.2,523.5 L309.4,526.1 L309.5,516.4 L309.8,520.8 L310.7,521.6 L310.7,515.5 L310.7,515.5 L311.1,516.7 L311.5,516.4 L311.7,518.6 L310.9,525.5 L311.3,533.0 L311.7,539.4 L311.9,544.5 L312.0,539.4 L312.2,544.5 L312.4,541.2 L312.5,542.1 L312.7,544.3 L312.9,542.5 L313.0,539.5 L313.2,539.4 L313.3,542.9 L313.5,550.7 L313.7,558.3 L314.0,551.5 L314.3,545.7 L314.6,539.3 L313.6,540.4 L313.8,527.8 L314.0,533.2 L314.8,529.2 L314.7,523.5 L314.8,520.6 L315.0,521.5 L315.1,518.6 L315.3,519.6 L315.5,517.5 L315.6,517.6 L315.8,519.7 L315.9,517.5 L316.1,517.5 L316.2,521.3 L316.4,524.7 L316.5,522.6 L316.7,523.9 L316.9,531.1 L317.0,526.8 L317.2,533.3 L317.3,533.4 L317.5,533.4 L317.7,533.4 L317.8,532.6 L318.0,533.4 L318.1,531.4 L318.3,531.7 L318.5,518.3 L318.6,521.8 L318.8,517.9 L318.9,522.4 L319.1,515.5 L319.3,515.5 L319.4,513.0 L319.6,515.5 L319.7,509.8 L319.9,505.2 L320.0,515.5 L320.2,510.4 L320.3,505.3 L320.5,502.5 L320.6,495.6 L321.0,495.6 L321.3,495.6 L321.6,491.4 L320.7,476.4 L320.9,477.4 L321.1,478.0 L322.1,477.1 L322.1,478.0 L322.0,467.8 L322.2,467.8 L322.4,467.8 L322.5,467.8 L322.7,467.8 L322.8,467.8 L323.0,469.8 L323.2,470.9 L323.3,468.0 L323.5,473.1 L323.6,483.7 L324.0,482.9 L324.3,472.8 L324.6,471.4 L323.7,475.6 L323.9,469.5 L324.1,461.8 L325.1,464.0 L325.1,461.3 L325.0,451.8 L325.2,451.8 L325.3,451.8 L325.5,451.8 L325.7,451.8 L325.8,458.5 L326.0,463.2 L326.1,455.5 L326.3,458.6 L326.5,464.4 L326.6,467.8 L326.8,467.8 L326.9,467.8 L327.1,467.6 L327.2,467.8 L327.4,467.8 L327.5,459.8 L327.7,463.9 L327.9,460.7 L328.0,459.8 L328.4,459.8 L328.8,460.2 L329.1,461.5 L328.2,467.1 L328.4,476.8 L328.8,471.9 L329.2,483.7 L329.4,483.7 L329.5,483.7 L329.7,483.9 L329.8,486.4 L330.0,483.7 L330.1,494.0 L330.3,492.2 L330.4,496.5 L330.6,500.6 L330.9,500.6 L331.3,495.7 L331.5,496.2 L330.7,487.0 L330.8,488.1 L331.0,478.8 L332.0,473.7 L332.0,477.1 L332.0,473.7 L332.1,471.1 L332.3,473.7 L332.5,473.7 L332.6,471.3 L332.8,472.1 L332.9,462.4 L333.1,465.4 L333.3,468.8 L333.4,462.5 L333.6,455.8 L333.7,460.5 L333.9,464.4 L334.1,462.8 L334.2,469.6 L334.4,462.2 L334.5,463.5 L334.7,465.1 L334.9,467.3 L335.0,469.8 L335.2,469.8 L335.3,469.8 L335.5,469.8 L335.6,467.9 L335.8,460.3 L335.9,455.8 L336.1,455.8 L336.3,455.8 L336.4,455.8 L336.6,455.8 L336.7,455.5 L336.9,455.8 L337.1,450.5 L337.2,438.6 L337.4,438.2 L337.6,433.9 L337.7,433.9 L337.9,431.6 L338.1,433.9 L338.2,433.9 L338.4,433.9 L338.6,432.4 L338.8,430.3 L339.2,433.0 L339.5,435.7 L339.8,442.6 L338.9,441.2 L339.2,452.1 L339.5,453.0 L340.0,459.8 L340.1,456.9 L340.3,453.1 L340.5,459.8 L340.6,457.8 L340.8,448.4 L341.0,442.1 L341.1,437.9 L341.5,450.0 L341.8,451.4 L342.1,456.8 L341.2,451.5 L341.4,453.7 L341.6,457.6 L342.6,467.8 L342.6,464.2 L342.5,467.8 L342.7,471.1 L342.9,467.8 L343.0,468.6 L343.2,468.8 L343.4,467.8 L343.5,467.8 L343.7,467.8 L343.9,467.8 L344.0,467.8 L344.2,470.4 L344.4,473.5 L344.5,480.7 L344.9,480.7 L345.2,475.6 L345.5,475.1 L344.6,468.8 L344.8,463.5 L345.0,458.0 L346.0,453.0 L346.0,454.2 L345.9,449.9 L346.1,451.1 L346.2,451.6 L346.4,455.5 L346.6,452.6 L346.7,451.9 L346.9,453.7 L347.0,452.6 L347.2,454.0 L347.4,452.7 L347.5,465.8 L347.7,465.8 L347.8,465.2 L348.0,459.7 L348.1,465.8 L348.3,463.2 L348.5,457.6 L348.6,454.1 L348.8,450.6 L348.9,453.1 L349.1,447.9 L349.4,459.3 L349.8,454.3 L350.0,458.1 L349.2,452.4 L349.3,462.3 L349.6,460.4 L350.5,460.0 L350.5,464.9 L350.5,471.7 L350.7,467.6 L350.8,467.6 L351.0,461.9 L351.1,464.6 L351.3,465.9 L351.4,466.0 L351.6,464.1 L351.7,464.0 L351.9,461.8 L352.3,468.8 L352.7,481.2 L352.9,474.7 L352.0,478.2 L352.3,480.0 L352.7,485.7 L353.1,485.7 L353.2,488.1 L353.4,485.7 L353.5,492.8 L353.7,496.6 L353.9,499.0 L354.0,504.3 L354.2,506.3 L354.3,501.0 L354.5,507.6 L354.6,509.8 L354.8,509.7 L354.9,515.7 L355.1,523.1 L355.3,517.8 L355.4,514.2 L355.6,523.4 L355.7,528.5 L355.9,528.5 L356.2,522.5 L356.5,519.5 L356.8,517.3 L356.0,509.1 L356.1,509.8 L356.3,503.3 L357.4,499.6 L357.5,502.7 L357.5,499.6 L357.5,499.6 L357.6,499.6 L357.8,499.6 L357.9,499.6 L358.1,498.4 L358.3,493.6 L358.4,499.6 L358.6,499.6 L358.7,493.6 L358.9,493.6 L359.1,493.6 L359.2,493.4 L359.4,493.6 L359.5,493.6 L359.7,493.6 L359.9,493.6 L360.0,492.6 L360.2,492.6 L360.3,492.6 L360.5,493.6 L360.6,492.6 L360.8,492.6 L361.0,492.6 L361.2,494.9 L361.3,493.6 L361.5,494.5 L361.7,498.1 L361.8,505.6 L362.0,508.7 L362.2,507.9 L362.3,516.3 L362.5,517.4 L362.6,518.7 L362.8,515.2 L363.0,515.0 L363.1,521.5 L363.3,517.8 L363.4,521.5 L363.6,521.5 L363.8,518.6 L363.9,517.5 L364.1,509.0 L364.3,513.9 L364.4,517.5 L364.6,516.4 L364.8,505.6 L364.9,505.6 L365.1,505.6 L365.3,506.3 L365.4,505.6 L365.6,513.8 L365.8,511.8 L365.9,512.2 L366.1,513.6 L366.3,515.5 L366.4,510.2 L366.6,515.5 L366.7,515.5 L366.9,515.5 L367.1,514.4 L367.2,515.5 L367.4,515.5 L367.6,503.6 L367.7,506.8 L367.9,507.6 L368.0,505.0 L368.2,515.5 L368.4,515.5 L368.5,513.1 L368.7,513.6 L368.8,507.8 L369.0,503.6 L369.2,501.2 L369.3,493.7 L369.5,491.6 L369.6,491.6 L369.8,491.6 L369.9,491.6 L370.1,491.6 L370.2,491.6 L370.4,491.6 L370.6,493.6 L370.7,505.9 L370.9,502.7 L371.0,503.4 L371.2,497.9 L371.3,498.1 L371.5,503.0 L371.6,511.5 L371.8,511.5 L372.0,511.5 L372.1,511.5 L372.3,511.5 L372.4,510.3 L372.6,511.5 L372.7,509.6 L372.9,510.2 L373.1,511.5 L373.2,511.5 L373.4,509.6 L373.7,509.6 L374.0,517.6 L374.3,512.9 L373.5,524.2 L373.6,530.2 L373.8,530.9 L374.9,527.2 L375.0,535.6 L375.0,545.4 L375.0,545.4 L375.1,540.9 L375.3,543.9 L375.4,542.9 L375.6,545.4 L375.7,545.1 L375.9,545.3 L376.1,537.4 L376.2,544.3 L376.4,537.4 L376.5,537.4 L376.7,537.4 L376.8,537.4 L377.0,537.4 L377.1,537.4 L377.3,537.4 L377.5,537.4 L377.6,537.4 L377.8,537.4 L378.1,537.4 L378.4,537.4 L378.7,532.9 L377.9,529.5 L378.0,525.9 L378.2,517.0 L379.3,519.9 L379.4,512.5 L379.4,512.5 L379.4,512.5 L379.5,512.5 L379.7,512.5 L379.9,512.5 L380.0,512.5 L380.2,512.7 L380.3,513.5 L380.5,513.5 L380.7,513.5 L380.8,513.5 L381.0,512.5 L381.2,512.8 L381.3,513.5 L381.5,513.5 L381.7,519.7 L381.8,524.5 L382.0,513.5 L382.1,513.5 L382.3,513.5 L382.5,513.5 L382.6,525.5 L382.8,524.0 L382.9,525.5 L383.1,525.5 L383.2,525.5 L383.4,525.5 L383.6,529.5 L383.7,525.5 L383.9,529.5 L384.0,525.5 L384.2,525.5 L384.3,529.5 L384.5,535.0 L384.6,531.5 L384.8,529.5 L384.9,529.5 L385.1,529.7 L385.3,537.7 L385.4,532.2 L385.6,536.4 L385.7,541.4 L385.9,541.3 L386.0,540.7 L386.2,541.4 L386.4,541.4 L386.5,541.4 L386.7,541.4 L386.8,541.4 L387.0,540.1 L387.2,541.4 L387.3,539.4 L387.5,541.7 L387.6,540.3 L387.8,539.4 L388.0,539.4 L388.1,539.4 L388.3,542.4 L388.5,539.4 L388.6,549.9 L388.8,555.3 L389.0,557.3 L389.1,557.3 L389.3,557.3 L389.5,552.0 L389.6,549.8 L389.8,550.7 L390.0,550.6 L390.1,547.4 L390.3,547.4 L390.5,547.4 L390.6,547.4 L390.8,552.0 L391.0,556.3 L391.1,555.4 L391.3,547.4 L391.5,547.4 L391.6,547.4 L391.8,547.4 L391.9,547.4 L392.1,547.4 L392.2,547.4 L392.4,547.4 L392.6,549.4 L392.7,549.3 L392.9,549.4 L393.0,545.5 L393.2,549.4 L393.3,546.0 L393.5,540.4 L393.7,539.4 L393.8,539.4 L394.0,539.4 L394.1,544.2 L394.3,539.4 L394.4,547.3 L394.6,551.3 L394.7,547.9 L394.9,549.0 L395.1,550.3 L395.2,549.2 L395.4,559.3 L395.5,554.6 L395.7,559.3 L395.8,561.1 L396.0,559.3 L396.2,559.3 L396.3,563.3 L396.5,564.1 L396.7,566.3 L396.8,570.0 L397.0,559.3 L397.2,566.9 L397.3,573.8 L397.5,573.8 L397.6,573.8 L397.8,573.8 L398.0,573.8 L398.1,573.8 L398.3,573.8 L398.5,573.8 L398.6,573.8 L398.8,573.8 L399.0,565.2 L399.1,564.7 L399.3,565.7 L399.5,562.2 L399.6,558.7 L399.8,569.5 L400.0,563.3 L400.1,557.9 L400.3,553.9 L400.5,559.4 L400.6,569.9 L400.8,570.6 L400.9,565.6 L401.1,562.2 L401.3,566.9 L401.4,560.9 L401.6,567.8 L401.7,573.8 L401.9,573.8 L402.1,579.8 L402.2,586.3 L402.4,593.7 L402.6,593.7 L402.7,593.7 L402.9,593.7 L403.1,593.7 L403.2,593.7 L403.4,593.7 L403.5,593.7 L403.7,593.7 L403.9,593.7 L404.0,601.8 L404.2,603.6 L404.4,603.6 L404.5,603.6 L404.7,603.6 L404.9,603.6 L405.0,603.6 L405.2,603.6 L405.4,603.6 L405.5,603.6 L405.7,603.6 L405.9,603.6 L406.0,605.8 L406.2,604.4 L406.4,610.1 L406.5,610.1 L406.7,608.5 L406.9,609.3 L407.0,608.4 L407.2,604.8 L407.4,603.6 L407.5,606.8 L407.7,610.4 L407.9,617.6 L408.0,617.6 L408.2,617.6 L408.4,617.6 L408.5,617.6 L408.7,617.6 L408.9,617.6 L409.0,619.2 L409.2,622.4 L409.4,618.2 L409.5,627.7 L409.7,634.5 L409.9,634.5 L410.2,634.5 L410.5,633.7 L410.7,634.5 L410.0,634.5 L410.1,632.4 L410.3,629.7 L411.5,624.8 L411.7,625.2 L411.7,625.6 L411.2,625.1 L411.5,621.4 L411.8,600.6 L412.1,604.2 L412.4,600.6 L412.7,601.2 L412.0,610.4 L412.1,614.9 L412.3,615.8 L413.5,617.9 L413.6,620.2 L413.7,620.2 L413.2,620.0 L413.5,617.9 L413.8,627.5 L414.0,625.5 L414.1,627.5 L414.3,625.4 L414.5,623.9 L414.6,621.0 L414.8,621.6 L414.9,624.1 L415.1,623.5 L415.3,617.8 L415.4,611.6 L415.6,619.2 L415.7,616.1 L415.9,612.9 L416.0,619.4 L416.2,623.9 L416.4,625.2 L416.5,621.5 L416.7,632.9 L416.8,633.5 L417.3,633.5 L417.6,630.8 L417.9,620.7 L417.0,610.9 L417.4,610.8 L417.8,610.6 L418.1,611.7 L418.5,610.6 L418.7,610.6 L417.9,610.6 L418.1,610.6 L418.2,610.6 L419.4,613.1 L419.4,631.1 L419.4,637.5 L419.4,637.5 L419.7,638.1 L420.1,637.5 L420.3,637.5 L419.5,637.5 L419.6,642.0 L419.9,650.9 L420.8,659.6 L420.8,666.2 L420.8,675.3 L421.0,675.3 L421.1,672.4 L421.3,667.4 L421.4,659.4 L421.6,663.7 L421.7,668.3 L421.9,670.0 L422.0,660.9 L422.2,659.4 L422.4,659.4 L422.5,660.8 L422.7,660.9 L422.9,664.9 L423.0,663.9 L423.2,669.7 L423.3,672.2 L423.5,671.7 L423.7,672.3 L423.8,671.0 L424.0,676.3 L424.2,676.3 L424.5,676.3 L424.8,674.9 L425.1,666.3 L424.3,670.8 L424.4,664.6 L424.6,667.9 L425.7,669.8 L425.8,660.3 L425.8,654.6 L425.8,651.4 L425.9,651.4 L426.1,651.4 L426.2,652.2 L426.4,653.5 L426.6,658.2 L426.7,658.4 L426.9,662.6 L427.0,661.1 L427.2,663.5 L427.4,669.3 L427.7,666.7 L428.0,661.4 L428.2,652.6 L427.6,650.8 L427.7,649.8 L427.8,645.6 L429.1,643.4 L429.2,643.4 L429.2,649.6 L428.7,645.1 L429.0,644.2 L429.4,643.4 L429.5,643.4 L429.7,643.4 L429.8,643.4 L430.0,650.0 L430.1,652.7 L430.3,652.5 L430.4,655.4 L430.6,660.4 L430.7,661.3 L430.9,661.3 L431.1,661.3 L431.2,661.3 L431.4,661.3 L431.6,661.3 L431.7,661.3 L431.9,661.3 L432.1,661.3 L432.2,662.4 L432.4,669.0 L432.6,669.3 L432.7,669.3 L432.9,669.3 L433.0,669.3 L433.2,669.3 L433.4,669.3 L433.5,669.3 L433.7,667.4 L433.8,665.2 L434.0,657.4 L434.1,657.4 L434.5,651.2 L434.9,635.8 L435.2,633.5 L434.3,633.5 L434.6,633.5 L434.9,633.5 L435.3,633.5 L435.8,620.3 L436.2,619.4 L436.3,615.3 L435.6,611.0 L436.1,609.6 L436.3,607.8 L436.4,606.7 L436.6,605.6 L436.8,605.6 L436.9,605.6 L437.1,605.6 L437.2,605.6 L437.4,605.6 L437.6,605.6 L437.7,605.6 L437.9,605.6 L438.1,605.6 L438.2,605.6 L438.4,605.6 L438.6,606.2 L438.7,615.6 L438.9,619.6 L439.2,614.0 L439.5,608.5 L439.7,606.7 L438.8,598.5 L438.9,599.0 L439.1,595.9 L439.8,591.1 L439.7,585.7 L440.0,582.9 L440.3,582.8 L440.5,582.3 L439.8,578.7 L439.9,577.8 L440.0,572.8 L441.3,574.0 L441.4,568.2 L441.4,551.1 L440.9,552.7 L441.2,547.6 L441.5,535.5 L441.7,531.0 L442.0,522.6 L442.2,530.7 L441.3,530.0 L441.3,517.9 L441.4,517.4 L442.5,511.7 L442.5,518.8 L442.4,509.6 L442.3,493.7 L442.7,499.1 L443.0,502.2 L443.2,504.9 L442.3,498.1 L442.7,505.4 L443.1,519.6 L443.4,503.0 L443.7,503.3 L444.0,494.0 L443.0,500.7 L443.2,497.0 L443.5,489.8 L443.9,489.8 L444.3,496.9 L444.6,498.0 L444.8,506.2 L443.9,507.7 L444.3,502.1 L444.7,517.6 L445.0,513.4 L445.2,507.8 L445.4,507.4 L444.5,496.6 L444.6,486.9 L444.7,481.9 L445.6,478.8 L445.6,478.8 L445.5,478.8 L445.6,480.1 L445.8,486.7 L446.0,493.9 L446.1,491.9 L446.3,495.7 L446.5,495.7 L446.8,505.6 L447.1,512.2 L447.3,516.4 L446.3,513.1 L446.5,517.8 L446.7,517.6 L447.1,525.6 L447.3,517.5 L447.5,505.7 L447.6,512.8 L447.7,518.7 L447.8,517.5 L447.2,525.9 L447.2,526.2 L447.1,526.5 L448.1,529.2 L448.1,527.1 L448.2,526.6 L447.1,527.8 L447.1,538.2 L447.2,548.4 L448.2,549.0 L448.2,559.9 L448.2,561.6 L447.4,565.7 L447.5,572.6 L447.6,576.2 L448.0,590.2 L447.9,590.2 L447.9,590.2 L448.2,590.2 L448.5,585.9 L448.8,579.6 L448.0,559.4 L448.1,559.4 L448.3,559.4 L449.4,559.4 L449.5,559.6 L449.5,564.3 L449.5,559.4 L449.8,559.4 L450.1,552.5 L450.4,546.5 L449.5,548.3 L449.7,546.5 L449.9,535.1 L450.9,533.1 L450.9,528.1 L450.8,519.6 L451.0,519.6 L451.2,518.2 L451.3,508.8 L451.5,501.9 L451.7,510.8 L451.8,501.7 L452.0,504.7 L452.2,509.8 L452.3,515.1 L452.5,510.1 L452.6,510.1 L452.8,512.6 L453.0,518.8 L453.1,517.0 L453.3,512.3 L453.4,519.6 L453.7,519.6 L454.0,517.7 L454.2,509.4 L453.2,506.6 L453.3,502.3 L453.5,501.9 L454.4,490.0 L454.3,485.7 L454.2,479.8 L454.4,472.6 L454.5,472.7 L454.7,471.8 L454.9,468.5 L455.0,469.6 L455.2,465.9 L455.3,465.9 L455.5,465.9 L455.7,465.9 L455.8,465.9 L456.3,465.9 L456.6,465.9 L456.7,466.3 L456.0,473.4 L456.4,489.8 L456.6,495.2 L456.8,492.5 L456.9,499.0 L456.1,496.4 L456.1,490.3 L456.1,506.8 L457.2,510.6 L457.1,516.6 L457.0,521.8 L456.6,533.9 L456.8,537.5 L457.0,537.5 L457.1,532.2 L457.3,521.4 L457.4,526.1 L457.6,531.1 L457.7,530.7 L457.9,528.8 L458.1,526.5 L458.2,519.6 L458.4,524.7 L458.6,524.9 L458.7,524.4 L458.9,523.0 L459.1,525.4 L459.2,524.8 L459.4,525.6 L459.8,512.9 L460.2,509.4 L460.5,515.2 L459.5,506.1 L459.8,499.1 L460.2,497.7 L460.6,496.7 L461.0,506.4 L461.3,503.8 L461.5,512.8 L460.7,512.6 L461.0,514.3 L461.4,523.6 L461.6,523.6 L461.7,523.6 L461.9,538.6 L462.0,541.2 L462.2,543.5 L462.3,545.4 L462.5,548.8 L462.7,549.8 L462.8,553.7 L463.0,554.6 L463.1,557.8 L463.3,563.4 L463.5,563.4 L463.6,563.4 L463.8,563.4 L464.2,567.9 L464.6,570.2 L464.8,577.8 L464.0,585.5 L464.3,585.6 L464.8,591.2 L465.1,580.5 L465.4,590.3 L465.7,591.2 L464.9,590.1 L465.0,580.9 L465.2,580.2 L466.2,567.1 L466.2,561.4 L466.2,561.4 L466.3,562.9 L466.5,561.4 L466.6,567.6 L466.8,563.0 L467.0,565.7 L467.1,564.1 L467.3,561.4 L467.4,564.1 L467.6,561.4 L467.8,571.3 L467.9,571.3 L468.1,584.8 L468.2,581.6 L468.4,585.7 L468.5,584.1 L468.7,579.6 L468.8,583.3 L469.0,585.7 L469.2,585.7 L469.3,593.3 L469.5,590.1 L469.6,591.9 L469.8,595.1 L469.9,599.5 L470.1,590.7 L470.2,600.7 L470.4,603.6 L470.5,603.6 L470.7,598.9 L470.9,590.4 L471.0,587.7 L471.2,587.7 L471.3,587.7 L471.5,587.7 L471.6,587.7 L471.8,588.7 L471.9,587.7 L472.1,587.8 L472.3,598.5 L472.4,604.4 L472.6,607.6 L472.7,607.6 L472.9,602.7 L473.1,599.6 L473.2,600.2 L473.4,602.3 L473.5,607.6 L473.7,615.0 L473.9,619.6 L474.0,619.6 L474.2,619.6 L474.3,617.6 L474.5,619.2 L474.6,618.3 L474.8,619.1 L475.0,619.6 L475.1,619.6 L475.3,612.7 L475.4,611.4 L475.6,611.3 L475.7,609.6 L475.9,609.6 L476.1,609.6 L476.2,609.6 L476.4,609.6 L476.5,609.6 L477.0,609.6 L477.3,611.9 L477.6,619.3 L476.7,627.3 L477.1,622.6 L477.5,633.5 L477.7,632.8 L477.8,630.1 L478.0,627.5 L478.1,629.5 L478.3,628.5 L478.4,626.2 L478.6,631.9 L478.8,626.6 L478.9,619.6 L479.1,619.6 L479.2,619.6 L479.4,619.6 L479.6,617.6 L479.8,617.6 L479.9,617.6 L480.1,617.6 L480.4,617.6 L480.8,620.6 L481.0,623.5 L480.2,619.1 L480.3,619.5 L480.6,630.1 L481.5,631.9 L481.5,632.3 L481.5,641.4 L481.9,641.4 L482.3,641.4 L482.5,635.1 L481.6,630.5 L481.9,631.9 L482.3,624.0 L482.7,615.6 L482.8,615.6 L483.0,615.6 L483.2,615.6 L483.3,606.1 L483.5,597.7 L483.6,595.7 L483.8,595.7 L484.0,595.7 L484.1,595.7 L484.3,595.7 L484.4,595.7 L484.6,595.7 L484.8,595.7 L484.9,595.7 L485.1,595.7 L485.2,604.4 L485.4,604.1 L485.5,602.9 L485.7,604.8 L485.8,600.0 L486.0,600.3 L486.2,600.5 L486.3,609.7 L486.5,611.6 L486.8,604.8 L487.1,595.0 L487.4,586.0 L486.5,583.2 L486.7,579.8 L486.9,583.3 L487.9,579.8 L487.9,580.8 L487.9,579.8 L488.0,578.5 L488.2,569.8 L488.4,569.8 L488.5,569.8 L488.7,569.8 L488.9,569.8 L489.1,569.8 L489.2,566.4 L489.4,563.8 L489.6,563.8 L489.7,563.8 L489.9,563.8 L490.0,563.8 L490.2,563.8 L490.4,563.8 L490.5,563.8 L490.7,563.8 L490.9,563.8 L491.0,563.8 L491.2,565.4 L491.4,575.1 L491.5,578.8 L491.7,578.8 L491.8,578.8 L492.0,578.8 L492.1,578.8 L492.3,570.5 L492.4,578.8 L492.9,566.5 L493.2,568.5 L493.5,562.2 L492.6,555.0 L493.0,552.2 L493.4,551.9 L493.6,555.3 L493.8,565.2 L493.9,567.2 L494.1,570.8 L494.2,569.0 L494.4,570.8 L494.5,570.8 L494.7,570.8 L494.9,570.8 L495.0,570.8 L495.4,570.8 L495.7,570.8 L496.0,569.8 L495.1,565.3 L495.3,568.9 L495.5,559.1 L496.5,555.2 L496.5,563.3 L496.4,547.9 L496.6,543.5 L496.9,534.2 L497.2,532.6 L497.4,518.0 L496.5,526.9 L496.6,507.2 L496.8,509.6 L497.7,512.7 L497.7,512.3 L497.6,505.7 L497.8,505.4 L497.9,498.3 L498.1,500.5 L498.3,492.2 L498.4,491.7 L498.6,491.7 L498.8,491.7 L498.9,491.7 L499.1,496.6 L499.3,493.3 L499.4,503.7 L499.6,509.7 L499.9,499.5 L500.2,497.5 L500.5,491.4 L499.5,486.0 L499.7,484.7 L500.0,479.0 L500.7,482.5 L500.6,476.8 L501.0,486.4 L501.4,490.3 L501.6,499.2 L500.8,499.7 L501.2,499.7 L501.6,499.7 L501.8,501.0 L501.9,504.2 L502.1,514.0 L502.3,515.6 L502.4,515.6 L502.6,515.6 L502.8,517.9 L502.9,518.0 L503.1,523.6 L503.3,523.6 L503.4,523.6 L503.6,523.6 L503.7,533.3 L503.9,537.3 L504.1,538.2 L504.2,541.5 L504.4,541.5 L504.5,541.5 L504.7,541.5 L504.9,538.9 L505.0,541.5 L505.2,541.5 L505.5,543.6 L505.8,544.8 L506.1,554.1 L505.3,559.0 L505.4,564.4 L505.6,560.4 L506.6,565.2 L506.6,562.4 L506.6,569.4 L506.7,565.0 L506.9,558.6 L507.1,563.5 L507.2,560.1 L507.4,557.0 L507.6,551.4 L507.7,546.0 L507.9,546.8 L508.1,548.5 L508.2,537.5 L508.4,538.3 L508.6,537.5 L508.8,537.5 L508.9,543.9 L509.1,541.0 L509.3,538.4 L509.4,552.3 L509.6,557.5 L509.8,553.6 L510.0,559.4 L510.1,565.1 L510.3,562.6 L510.5,559.4 L510.6,559.4 L510.8,565.6 L511.0,573.0 L511.1,579.3 L511.3,585.4 L511.5,593.2 L511.6,586.2 L511.8,589.1 L511.9,589.0 L512.1,586.8 L512.2,588.3 L512.4,592.2 L512.5,595.2 L512.7,595.2 L512.9,599.7 L513.1,613.4 L513.3,610.2 L513.4,603.5 L513.6,607.7 L513.7,613.6 L513.9,619.2 L514.1,616.1 L514.2,622.5 L514.4,622.5 L514.6,620.3 L514.8,620.1 L514.9,622.5 L515.3,622.2 L515.6,621.3 L515.9,617.0 L515.0,617.8 L515.2,614.0 L515.4,614.6 L516.4,602.6 L516.4,589.7 L516.3,589.7 L516.7,579.3 L517.0,574.8 L517.3,571.5 L516.4,566.0 L516.6,560.8 L516.8,565.6 L517.8,560.8 L517.7,560.8 L517.7,560.8 L518.0,561.8 L518.4,562.5 L518.6,567.4 L517.8,578.2 L518.0,572.5 L518.1,573.9 L519.3,573.7 L519.3,577.6 L519.3,579.3 L519.3,583.7 L519.5,581.0 L519.6,580.9 L519.8,576.8 L520.0,572.8 L520.1,571.6 L520.3,570.4 L520.5,563.8 L520.6,571.8 L520.8,570.7 L521.0,563.8 L521.1,568.3 L521.3,563.8 L521.7,570.3 L522.1,573.8 L522.3,578.8 L521.5,583.4 L521.8,583.9 L522.3,587.7 L522.4,600.3 L522.6,589.3 L522.8,591.1 L522.9,594.8 L523.1,590.4 L523.2,587.7 L523.4,597.5 L523.5,596.8 L523.7,609.6 L523.8,607.8 L524.0,603.4 L524.2,601.2 L524.3,599.9 L524.5,601.6 L524.6,599.2 L524.8,595.2 L525.0,593.7 L525.1,594.0 L525.3,593.7 L525.4,593.7 L525.6,593.7 L525.8,594.7 L525.9,594.0 L526.1,594.7 L526.2,593.7 L526.4,593.7 L526.5,598.6 L526.7,606.8 L526.9,609.6 L527.0,620.3 L527.2,619.1 L527.3,621.5 L527.5,621.5 L527.6,621.5 L527.8,621.5 L527.9,621.5 L528.1,621.3 L528.3,621.5 L528.4,632.8 L528.6,625.8 L528.8,633.5 L528.9,633.5 L529.1,633.5 L529.3,627.5 L529.4,628.9 L529.6,627.7 L529.8,632.1 L529.9,633.3 L530.1,627.6 L530.2,633.5 L530.4,637.0 L530.6,639.9 L530.7,645.2 L530.9,645.4 L531.0,645.4 L531.2,642.7 L531.3,634.7 L531.5,641.8 L531.6,645.4 L531.8,649.2 L532.0,650.0 L532.1,653.3 L532.3,656.7 L532.5,657.4 L532.6,657.4 L533.0,657.4 L533.3,657.4 L533.5,652.9 L532.7,641.0 L532.8,632.3 L533.0,631.5 L534.0,630.9 L534.0,624.9 L533.9,620.4 L534.3,621.3 L534.6,620.4 L534.9,627.3 L534.0,631.8 L534.2,647.9 L534.4,646.2 L535.5,648.0 L535.5,651.3 L535.5,651.3 L535.5,651.3 L535.7,642.7 L535.8,639.9 L536.0,638.5 L536.1,634.6 L536.3,636.8 L536.5,638.9 L536.6,637.3 L536.8,634.1 L536.9,629.4 L537.1,633.0 L537.2,637.4 L537.4,637.4 L537.5,637.4 L537.7,637.4 L537.8,634.4 L538.0,629.5 L538.2,634.3 L538.3,637.4 L538.5,637.4 L538.6,633.7 L538.8,632.1 L539.0,633.0 L539.1,632.1 L539.3,622.4 L539.7,624.0 L540.1,627.3 L540.4,624.5 L539.4,629.7 L539.7,637.9 L540.1,637.9 L540.5,651.3 L540.7,647.0 L540.8,643.3 L541.0,639.3 L541.1,637.4 L541.3,637.4 L541.4,637.4 L541.6,637.4 L541.7,637.4 L541.9,637.4 L542.0,637.4 L542.2,637.4 L542.4,637.4 L542.5,637.4 L542.7,637.4 L542.8,637.4 L543.0,638.8 L543.2,643.0 L543.3,647.8 L543.5,649.3 L543.6,646.3 L543.8,645.8 L543.9,646.7 L544.1,638.7 L544.3,637.2 L544.4,647.5 L544.6,642.9 L544.7,637.3 L544.9,629.4 L545.2,613.8 L545.5,612.7 L545.8,605.3 L544.8,599.3 L545.0,601.8 L545.2,608.0 L546.0,595.4 L545.9,593.6 L546.0,592.0 L546.2,589.1 L546.3,586.7 L546.5,581.5 L546.7,585.2 L546.8,583.6 L547.0,580.4 L547.1,582.3 L547.3,582.2 L547.5,579.7 L547.8,585.5 L548.1,599.2 L548.3,606.1 L547.4,609.5 L547.6,609.0 L547.9,609.5 L548.3,609.5 L548.7,615.2 L549.0,621.7 L549.3,615.6 L548.4,620.8 L548.7,629.5 L549.0,635.4 L549.5,635.4 L549.9,635.4 L550.3,631.3 L550.5,620.9 L549.6,611.4 L550.0,609.5 L550.4,609.5 L550.6,609.5 L550.8,609.5 L550.9,609.5 L551.1,607.0 L551.2,602.1 L551.4,601.1 L551.5,595.6 L551.7,595.6 L551.8,595.6 L552.0,593.0 L552.2,593.8 L552.3,586.9 L552.5,577.7 L552.6,577.7 L552.8,577.7 L553.0,580.5 L553.1,577.7 L553.3,581.2 L553.4,577.7 L553.6,577.7 L553.8,577.7 L553.9,577.7 L554.1,577.7 L554.3,575.9 L554.4,568.7 L554.6,568.7 L554.7,568.7 L554.9,568.7 L555.0,568.7 L555.2,568.7 L555.4,575.1 L555.5,574.1 L555.7,571.5 L555.8,579.7 L556.0,579.7 L556.1,579.7 L556.3,570.8 L556.4,564.5 L556.6,564.9 L556.7,562.0 L556.9,567.5 L557.1,557.8 L557.2,557.8 L557.4,558.1 L557.6,569.1 L557.7,572.4 L557.9,575.7 L558.1,575.7 L558.2,575.7 L558.4,575.7 L558.6,575.7 L558.7,575.7 L558.9,575.7 L559.0,579.7 L559.2,579.7 L559.3,576.2 L559.5,575.7 L559.6,575.7 L559.8,579.7 L560.0,585.3 L560.1,591.9 L560.3,593.6 L560.4,586.5 L560.6,586.1 L560.8,583.9 L560.9,589.9 L561.1,594.3 L561.2,593.8 L561.4,595.6 L561.6,595.6 L561.7,595.6 L561.9,590.5 L562.1,588.1 L562.2,583.1 L562.4,579.7 L562.6,579.7 L562.7,579.7 L562.9,575.7 L563.1,573.4 L563.2,571.4 L563.4,568.7 L563.5,569.5 L563.7,569.4 L563.8,576.8 L564.0,576.1 L564.2,577.2 L564.3,579.0 L564.5,581.4 L564.6,582.3 L564.8,589.6 L564.9,589.6 L565.1,589.6 L565.2,589.6 L565.4,589.2 L565.6,585.7 L565.7,581.0 L565.9,583.2 L566.0,580.4 L566.2,575.7 L566.3,576.5 L566.5,579.0 L566.6,575.7 L566.8,577.7 L567.0,577.4 L567.1,576.4 L567.3,581.8 L567.4,581.7 L567.6,578.0 L567.8,589.6 L567.9,581.0 L568.1,577.9 L568.2,579.9 L568.4,571.3 L568.5,568.1 L568.7,567.7 L568.8,578.2 L569.0,570.6 L569.2,567.7 L569.6,566.1 L569.9,561.3 L570.2,549.4 L569.3,546.4 L569.6,541.7 L569.9,539.9 L570.3,539.9 L570.5,545.4 L570.7,547.6 L570.8,549.3 L571.0,543.3 L571.2,542.5 L571.3,543.7 L571.5,541.5 L571.7,542.1 L571.8,539.9 L572.0,545.9 L572.1,557.8 L572.3,553.6 L572.5,553.8 L572.6,550.5 L572.8,555.4 L572.9,555.8 L573.1,554.2 L573.3,551.0 L573.4,549.6 L573.6,543.8 L573.7,543.8 L573.9,536.4 L574.1,535.8 L574.2,533.9 L574.4,535.4 L574.6,533.9 L574.7,533.9 L574.9,528.9 L575.0,532.4 L575.2,531.3 L575.4,532.5 L575.5,533.0 L575.7,533.9 L575.8,527.9 L576.0,529.2 L576.2,527.9 L576.3,527.9 L576.5,527.9 L576.7,527.9 L576.8,527.9 L577.0,532.0 L577.1,530.1 L577.3,535.9 L577.5,535.9 L577.6,535.9 L577.8,535.9 L578.0,536.0 L578.1,537.8 L578.3,545.8 L578.5,545.8 L578.6,545.8 L578.8,545.8 L578.9,547.3 L579.1,557.8 L579.2,557.8 L579.4,557.8 L579.5,557.8 L579.7,557.8 L579.9,566.7 L580.0,561.4 L580.2,557.8 L580.4,557.8 L580.5,557.8 L580.7,567.7 L580.9,567.7 L581.0,568.5 L581.2,578.3 L581.4,578.0 L581.5,580.3 L581.7,588.6 L581.9,588.6 L582.0,588.3 L582.2,577.5 L582.3,580.8 L582.5,587.1 L582.6,583.1 L582.8,575.7 L583.0,575.7 L583.1,575.7 L583.3,575.7 L583.4,576.3 L583.6,575.7 L583.7,575.7 L583.9,582.5 L584.1,585.6 L584.2,580.4 L584.4,576.1 L584.5,585.6 L584.7,585.6 L584.8,577.9 L585.0,577.8 L585.1,577.0 L585.3,576.2 L585.5,573.4 L585.6,571.5 L585.8,568.8 L585.9,570.4 L586.1,565.7 L586.2,561.8 L586.4,560.7 L586.6,563.5 L586.8,563.2 L586.9,560.7 L587.1,560.9 L587.3,560.7 L587.4,564.3 L587.6,564.7 L587.7,569.7 L587.9,569.7 L588.0,569.7 L588.2,569.7 L588.3,569.7 L588.5,569.7 L588.7,569.7 L588.8,569.7 L589.0,569.7 L589.1,569.7 L589.3,569.7 L589.4,575.3 L589.6,570.8 L589.7,579.2 L589.9,578.9 L590.0,583.6 L590.2,583.6 L590.4,583.6 L590.6,583.6 L590.7,577.9 L590.9,575.7 L591.1,573.7 L591.2,573.7 L591.4,573.1 L591.6,573.7 L591.7,573.7 L591.9,573.7 L592.0,573.7 L592.2,571.8 L592.3,573.7 L592.5,573.7 L592.6,568.7 L592.8,571.4 L593.0,574.5 L593.1,575.5 L593.3,583.1 L593.5,584.6 L593.6,584.6 L593.8,584.6 L594.0,584.6 L594.1,584.6 L594.3,584.6 L594.5,580.3 L594.6,584.6 L594.8,584.6 L595.0,584.6 L595.1,583.5 L595.3,578.7 L595.5,583.5 L595.6,575.7 L595.8,570.2 L596.0,575.7 L596.1,573.7 L596.3,572.5 L596.5,568.0 L596.6,557.8 L596.8,554.1 L596.9,552.8 L597.1,547.8 L597.3,547.8 L597.4,547.8 L597.6,547.8 L597.8,540.3 L597.9,539.9 L598.1,539.9 L598.2,539.9 L598.4,540.2 L598.6,545.3 L598.7,541.6 L598.9,539.9 L599.0,539.9 L599.2,539.9 L599.4,537.9 L599.5,539.6 L599.7,539.9 L599.8,539.9 L600.0,539.9 L600.1,537.9 L600.3,537.9 L600.4,537.9 L600.6,537.9 L600.8,538.1 L600.9,537.9 L601.1,543.4 L601.2,545.7 L601.4,545.8 L601.5,545.8 L601.7,545.3 L601.8,545.8 L602.0,545.8 L602.2,545.8 L602.3,545.8 L602.5,546.4 L602.7,548.4 L602.8,556.8 L603.0,556.8 L603.2,556.8 L603.3,546.1 L603.5,539.9 L603.6,544.8 L603.8,543.6 L604.0,544.6 L604.1,545.4 L604.3,542.4 L604.4,538.2 L604.6,535.9 L604.7,535.9 L604.9,535.9 L605.0,535.9 L605.2,535.9 L605.4,535.9 L605.5,535.9 L605.7,531.0 L605.8,535.9 L606.0,523.9 L606.3,525.9 L606.6,542.3 L606.9,543.6 L606.1,540.5 L606.2,543.6 L606.4,553.9 L607.5,556.2 L607.6,562.8 L607.6,566.6 L607.6,567.7 L607.9,567.7 L608.3,567.7 L608.5,560.0 L607.6,549.8 L607.8,544.4 L608.2,539.1 L608.6,535.9 L608.7,535.9 L608.9,531.4 L609.1,535.7 L609.2,535.4 L609.4,535.1 L609.6,528.3 L609.7,526.5 L609.9,523.8 L610.0,525.0 L610.2,521.9 L610.4,521.9 L610.5,521.9 L610.7,523.6 L610.9,528.0 L611.0,531.1 L611.2,543.8 L611.4,537.9 L611.5,543.8 L611.7,543.8 L611.9,543.8 L612.0,543.8 L612.2,543.8 L612.3,544.0 L612.5,543.8 L612.7,554.0 L612.8,560.9 L613.0,563.7 L613.1,563.7 L613.3,556.2 L613.4,560.7 L613.6,558.1 L613.8,555.2 L613.9,555.6 L614.1,549.8 L614.2,550.0 L614.4,549.8 L614.5,549.8 L614.7,545.2 L614.8,547.1 L615.0,544.8 L615.1,546.7 L615.3,549.8 L615.5,549.8 L615.6,549.8 L615.8,549.8 L615.9,544.8 L616.1,552.5 L616.3,554.2 L616.4,557.8 L616.6,559.4 L616.8,554.8 L616.9,555.0 L617.1,561.7 L617.3,569.4 L617.4,565.9 L617.6,561.7 L617.7,568.8 L617.9,563.8 L618.0,575.1 L618.2,575.3 L618.4,570.4 L618.5,575.7 L618.7,582.5 L618.8,575.7 L619.0,578.3 L619.2,575.7 L619.3,580.0 L619.5,575.7 L619.7,575.7 L619.8,575.7 L620.0,575.7 L620.2,576.3 L620.3,583.3 L620.5,584.6 L620.7,584.6 L620.8,584.1 L621.0,584.3 L621.2,581.6 L621.3,581.9 L621.5,569.7 L621.7,567.4 L621.8,564.0 L622.0,569.7 L622.2,569.7 L622.3,569.7 L622.5,569.7 L622.7,559.8 L622.9,559.8 L623.0,559.8 L623.2,559.8 L623.4,564.2 L623.5,559.8 L623.7,560.8 L623.9,567.7 L624.0,572.1 L624.2,575.8 L624.4,572.7 L624.5,570.8 L624.7,573.0 L624.8,576.7 L625.0,576.7 L625.2,572.2 L625.3,576.7 L625.5,576.7 L625.6,576.7 L625.8,573.6 L626.0,573.2 L626.1,576.7 L626.3,576.2 L626.5,575.3 L626.6,567.7 L626.8,567.7 L627.0,567.7 L627.1,567.7 L627.3,567.7 L627.5,567.7 L627.6,567.7 L627.8,567.7 L627.9,567.7 L628.1,567.7 L628.3,567.7 L628.4,567.7 L628.6,567.7 L628.7,566.5 L628.9,567.7 L629.1,560.7 L629.2,560.7 L629.4,560.7 L629.5,560.7 L629.7,559.8 L629.8,559.8 L630.0,560.7 L630.1,560.7 L630.3,560.7 L630.4,559.8 L630.6,559.8 L630.8,559.8 L630.9,562.8 L631.1,560.6 L631.2,567.7 L631.4,567.2 L631.5,565.6 L631.7,569.5 L631.8,569.7 L632.0,575.7 L632.2,574.6 L632.3,575.7 L632.5,575.7 L632.6,574.4 L632.8,569.7 L633.0,569.7 L633.1,569.7 L633.3,569.7 L633.4,575.7 L633.6,575.9 L633.8,575.7 L633.9,575.7 L634.1,575.7 L634.2,575.7 L634.4,575.7 L634.5,575.7 L634.7,575.7 L634.9,575.7 L635.0,582.6 L635.2,582.6 L635.3,580.1 L635.5,577.5 L635.6,574.2 L635.8,571.6 L636.0,569.7 L636.1,569.7 L636.3,569.7 L636.4,569.7 L636.6,569.7 L636.7,577.7 L636.9,577.7 L637.0,569.7 L637.2,569.7 L637.3,569.7 L637.5,576.4 L637.7,576.9 L637.8,577.7 L638.0,577.7 L638.1,583.1 L638.3,583.4 L638.4,582.8 L638.6,581.5 L638.8,585.6 L638.9,585.6 L639.1,580.6 L639.2,585.6 L639.4,585.6 L639.6,584.4 L639.7,583.2 L639.9,585.6 L640.0,585.6 L640.2,582.8 L640.3,578.7 L640.5,573.7 L640.6,574.5 L640.8,573.7 L641.0,573.7 L641.1,573.7 L641.3,569.7 L641.4,573.7 L641.6,573.7 L641.8,573.7 L641.9,573.7 L642.1,573.7 L642.2,573.7 L642.4,569.7 L642.5,569.7 L642.7,569.7 L642.9,566.6 L643.0,569.7 L643.2,569.7 L643.3,569.7 L643.5,565.7 L643.6,565.7 L643.8,565.7 L643.9,567.2 L644.1,565.7 L644.3,565.7 L644.4,565.7 L644.6,565.7 L644.7,565.7 L644.9,571.7 L645.1,569.6 L645.2,572.7 L645.4,577.7 L645.5,573.0 L645.7,570.3 L645.9,577.7 L646.0,577.7 L646.2,577.7 L646.3,577.7 L646.5,576.4 L646.6,567.7 L646.8,567.7 L647.0,567.7 L647.1,567.7 L647.3,567.7 L647.4,567.7 L647.6,567.7 L647.7,567.7 L647.9,564.3 L648.0,564.1 L648.2,557.8 L648.4,557.8 L648.5,554.2 L648.7,549.8 L648.8,549.8 L649.0,549.8 L649.1,549.8 L649.3,549.8 L649.4,549.8 L649.6,549.8 L649.8,549.8 L649.9,549.8 L650.1,547.6 L650.3,549.8 L650.4,549.8 L650.6,547.6 L650.8,546.9 L650.9,535.9 L651.1,527.3 L651.3,522.4 L651.4,521.4 L651.6,517.3 L651.7,517.3 L651.9,517.3 L652.0,517.3 L652.2,517.3 L652.3,517.3 L652.5,512.0 L652.7,507.2 L652.8,505.9 L653.0,501.1 L653.2,496.4 L653.3,501.3 L653.5,497.1 L653.7,496.4 L653.8,496.4 L654.0,496.4 L654.2,496.4 L654.3,496.4 L654.5,496.4 L654.6,496.4 L654.8,496.4 L655.0,496.4 L655.1,504.8 L655.3,500.1 L655.4,510.7 L655.6,506.8 L655.8,507.1 L655.9,513.3 L656.1,512.4 L656.3,509.5 L656.4,496.1 L656.6,493.7 L656.7,493.4 L656.9,493.4 L657.1,492.3 L657.2,493.4 L657.4,487.3 L657.5,484.7 L657.7,481.4 L657.8,483.2 L658.0,481.9 L658.2,485.1 L658.3,481.4 L658.5,479.1 L658.6,481.4 L658.8,481.4 L659.0,478.5 L659.1,478.5 L659.3,478.5 L659.5,478.5 L659.6,478.5 L659.8,478.5 L660.0,478.5 L660.1,478.5 L660.3,478.5 L660.5,478.5 L660.6,478.2 L660.8,474.6 L661.0,467.5 L661.2,466.1 L661.3,470.0 L661.5,459.6 L661.6,459.6 L661.8,455.4 L662.0,449.7 L662.1,449.6 L662.3,449.6 L662.4,449.6 L662.6,449.6 L662.7,449.6 L662.9,449.6 L663.1,434.3 L663.2,430.7 L663.4,439.2 L663.5,433.3 L663.7,429.7 L663.9,429.7 L664.0,422.2 L664.2,419.3 L664.4,421.6 L664.5,419.7 L664.7,418.7 L664.8,415.8 L665.0,415.8 L665.2,415.8 L665.3,415.8 L665.5,415.8 L665.8,414.9 L666.1,401.8 L666.4,406.2 L665.6,410.8 L665.7,406.2 L665.9,395.6 L666.9,389.9 L666.9,395.3 L666.9,389.9 L667.0,389.9 L667.2,389.9 L667.3,395.3 L667.5,395.2 L667.6,394.6 L667.8,391.6 L667.9,400.5 L668.1,405.8 L668.3,405.8 L668.5,394.3 L668.7,386.2 L668.9,385.6 L668.0,377.8 L668.0,378.9 L668.1,377.1 L669.2,374.9 L669.1,374.7 L669.1,373.7 L668.7,365.2 L668.9,359.6 L669.1,359.6 L669.2,353.1 L669.4,344.2 L669.5,343.7 L669.7,340.9 L669.8,335.7 L670.0,335.7 L670.2,335.7 L670.3,335.7 L670.5,335.7 L670.9,340.2 L671.3,350.2 L671.5,348.8 L670.7,353.9 L671.1,354.4 L671.5,359.6 L671.7,365.9 L671.8,374.0 L672.0,370.8 L672.1,379.5 L672.3,379.5 L672.6,371.2 L673.0,367.7 L673.2,357.0 L672.3,354.4 L672.5,353.4 L672.8,349.7 L673.5,350.0 L673.5,345.7 L673.8,352.8 L674.1,352.1 L674.3,359.4 L673.3,361.9 L673.5,366.6 L673.7,373.2 L674.4,379.5 L674.3,379.5 L674.7,379.5 L675.0,379.5 L675.3,379.5 L674.4,382.3 L674.7,389.3 L675.1,398.5 L675.5,403.4 L675.6,407.9 L675.8,406.9 L676.0,406.3 L676.1,408.4 L676.3,414.5 L676.5,420.3 L676.7,416.3 L676.9,411.4 L677.1,410.8 L676.3,407.9 L676.4,405.4 L676.4,403.1 L677.6,396.0 L677.6,386.3 L677.6,384.9 L677.0,383.2 L677.2,377.9 L677.5,371.5 L677.6,383.9 L677.8,379.6 L677.9,378.2 L678.1,379.5 L678.2,373.0 L678.4,373.4 L678.5,383.2 L678.7,388.1 L678.9,391.4 L679.0,396.3 L679.2,398.4 L679.4,405.3 L679.5,406.0 L679.7,405.2 L679.9,407.4 L680.2,407.4 L680.5,404.3 L680.8,403.1 L680.0,387.1 L680.1,388.7 L680.3,396.7 L681.4,399.1 L681.4,392.5 L681.5,382.9 L681.4,379.5 L681.6,373.8 L681.8,377.6 L681.9,374.4 L682.1,379.5 L682.2,379.5 L682.4,375.3 L682.5,376.7 L682.7,372.6 L682.8,364.6 L683.0,364.6 L683.1,364.6 L683.3,364.6 L683.5,364.6 L683.6,364.6 L683.8,364.6 L683.9,364.6 L684.1,364.6 L684.2,364.6 L684.6,364.6 L684.9,364.6 L685.2,364.6 L684.3,368.8 L684.5,383.3 L684.7,387.7 L685.5,390.4 L685.4,399.4 L685.6,399.4 L685.8,399.4 L685.9,401.3 L686.1,403.5 L686.3,413.2 L686.4,417.3 L686.8,417.3 L687.1,417.3 L687.4,417.3 L686.5,410.0 L686.7,406.5 L686.9,404.1 L687.9,391.4 L687.8,386.5 L687.8,383.5 L688.0,382.9 L688.1,383.5 L688.3,383.5 L688.4,383.5 L688.6,383.5 L688.8,380.9 L688.9,382.4 L689.1,379.5 L689.2,379.5 L689.4,379.5 L689.7,385.0 L690.1,384.5 L690.3,379.5 L689.5,386.6 L689.6,385.8 L689.9,393.6 L690.8,396.2 L690.8,400.1 L690.8,410.3 L691.2,407.2 L691.5,409.9 L691.8,396.7 L690.8,396.5 L691.1,390.2 L691.4,384.5 L691.8,379.5 L692.0,377.5 L692.1,379.5 L692.3,368.6 L692.5,364.9 L692.6,359.6 L692.8,359.6 L693.0,354.4 L693.1,354.1 L693.3,349.1 L693.4,349.9 L693.6,352.7 L693.8,347.7 L693.9,347.7 L694.1,344.1 L694.3,347.7 L694.4,347.7 L694.6,347.7 L694.7,347.7 L694.9,347.7 L695.1,344.0 L695.2,338.4 L695.4,337.7 L695.7,342.1 L696.0,346.0 L696.3,349.9 L695.3,358.2 L695.5,359.8 L695.7,357.2 L696.5,354.6 L696.4,370.5 L696.5,355.4 L696.7,352.3 L696.8,358.1 L697.0,358.6 L697.1,351.9 L697.3,349.7 L697.5,352.3 L697.6,356.8 L697.8,349.7 L697.9,352.6 L698.1,352.7 L698.2,357.6 L698.4,363.6 L698.6,360.8 L698.7,351.6 L698.9,352.5 L699.0,361.0 L699.2,363.6 L699.4,363.6 L699.5,363.6 L699.7,363.6 L699.8,363.6 L700.0,363.6 L700.1,362.9 L700.3,361.4 L700.5,363.6 L700.6,360.5 L700.8,355.5 L700.9,344.7 L701.2,352.0 L701.5,354.2 L701.7,361.2 L700.9,360.0 L700.9,362.7 L701.1,373.1 L702.2,376.9 L702.2,385.0 L702.2,391.4 L701.9,391.4 L702.1,391.4 L702.5,391.4 L702.8,391.4 L703.1,391.4 L702.3,385.9 L702.4,375.3 L702.6,362.0 L703.7,359.6 L703.7,359.8 L703.7,361.3 L703.7,359.6 L704.1,363.1 L704.4,370.0 L704.7,371.0 L703.8,376.0 L704.0,379.5 L704.2,370.2 L705.3,370.8 L705.3,381.0 L705.3,381.5 L705.3,383.5 L705.5,386.8 L705.6,390.8 L705.8,395.4 L705.9,395.4 L706.1,395.4 L706.3,395.4 L706.4,395.4 L706.6,395.4 L706.7,395.4 L706.9,402.3 L707.0,407.4 L707.2,400.8 L707.3,407.4 L707.5,407.4 L707.6,407.4 L707.8,407.4 L708.0,407.4 L708.1,407.4 L708.3,402.2 L708.5,399.4 L708.6,406.3 L708.8,401.7 L709.0,399.4 L709.1,399.4 L709.3,399.4 L709.7,403.5 L710.1,414.2 L710.4,416.2 L709.4,415.1 L709.7,418.3 L710.1,424.5 L710.5,425.3 L710.8,423.2 L711.1,425.3 L711.4,422.7 L710.6,419.3 L710.7,423.0 L710.9,415.8 L712.1,407.5 L712.1,397.8 L712.1,396.3 L712.1,395.4 L712.2,393.7 L712.4,393.1 L712.6,395.4 L712.7,395.4 L712.9,394.4 L713.0,393.4 L713.2,393.1 L713.4,395.4 L713.5,393.9 L713.7,389.5 L714.0,393.4 L714.3,390.1 L714.6,396.5 L713.8,399.7 L713.9,408.7 L714.1,409.6 L715.1,413.6 L715.1,414.7 L715.1,415.3 L715.4,415.3 L715.7,412.4 L716.0,412.7 L715.2,404.4 L715.3,402.8 L715.5,391.3 L716.6,386.5 L716.7,381.6 L716.7,382.7 L716.7,381.5 L716.8,377.7 L717.0,379.5 L717.2,377.7 L717.3,377.8 L717.5,379.1 L717.7,375.9 L717.8,371.4 L718.0,370.4 L718.2,369.6 L718.3,369.6 L718.5,369.6 L718.7,369.6 L718.8,370.6 L719.0,369.6 L719.1,369.6 L719.3,371.8 L719.4,380.9 L719.6,381.9 L719.7,383.9 L719.9,391.0 L720.0,391.4 L720.2,391.4 L720.4,399.6 L720.5,407.4 L720.7,407.4 L720.8,407.4 L721.0,406.5 L721.2,407.4 L721.3,407.4 L721.5,407.4 L721.6,407.4 L721.8,406.5 L722.0,404.7 L722.1,405.6 L722.3,407.4 L722.4,407.4 L722.6,404.0 L722.8,397.8 L722.9,388.4 L723.1,385.5 L723.2,385.5 L723.4,391.4 L723.5,391.8 L723.7,395.4 L723.9,395.4 L724.0,392.5 L724.2,388.5 L724.3,387.5 L724.5,395.4 L724.6,395.4 L724.8,395.4 L724.9,395.4 L725.1,395.4 L725.2,391.2 L725.4,383.6 L725.6,379.2 L725.7,378.5 L725.9,375.5 L726.0,375.5 L726.2,375.5 L726.4,375.4 L726.5,373.0 L726.7,368.4 L726.9,366.0 L727.0,355.7 L727.2,353.6 L727.4,359.6 L727.5,359.7 L727.7,373.5 L727.8,373.5 L728.0,373.5 L728.1,373.5 L728.3,373.5 L728.5,373.5 L728.6,373.5 L728.9,362.1 L729.2,355.2 L729.5,350.8 L728.6,350.7 L728.7,349.0 L729.0,349.4 L729.7,346.4 L729.6,337.7 L729.8,337.7 L729.9,330.5 L730.1,321.8 L730.3,324.9 L730.4,323.9 L730.6,319.8 L730.8,319.8 L730.9,319.8 L731.1,315.4 L731.2,312.9 L731.4,304.5 L731.5,303.9 L731.7,303.9 L731.8,303.9 L732.0,303.9 L732.2,300.9 L732.3,301.4 L732.5,300.9 L732.7,300.9 L732.8,301.0 L733.0,303.5 L733.2,300.9 L733.3,300.9 L733.5,300.9 L733.6,300.9 L733.8,303.9 L734.0,300.9 L734.2,305.3 L734.3,303.3 L734.5,305.9 L734.7,309.6 L734.8,314.9 L735.0,313.3 L735.2,315.8 L735.3,315.8 L735.5,315.8 L735.6,315.8 L735.8,315.8 L735.9,315.8 L736.1,315.8 L736.3,315.8 L736.4,321.3 L736.6,329.8 L736.7,336.6 L736.9,329.8 L737.1,331.2 L737.2,336.3 L737.4,340.9 L737.6,345.7 L737.7,339.5 L737.9,344.3 L738.0,345.7 L738.2,342.2 L738.4,331.9 L738.5,338.4 L738.7,330.5 L738.8,332.2 L739.0,337.8 L739.2,327.8 L739.3,325.3 L739.5,319.3 L739.6,318.0 L739.8,315.7 L739.9,322.3 L740.1,321.5 L740.2,317.3 L740.4,319.4 L740.5,313.8 L740.7,315.2 L740.9,330.9 L741.0,329.8 L741.2,330.5 L741.3,331.7 L741.5,331.7 L741.6,323.5 L741.8,331.7 L741.9,331.7 L742.1,331.7 L742.3,331.7 L742.5,331.7 L742.6,331.7 L742.8,331.7 L743.0,341.6 L743.1,347.7 L743.3,347.7 L743.4,341.4 L743.6,340.2 L743.8,332.6 L743.9,335.8 L744.1,333.4 L744.2,332.6 L744.4,331.0 L744.5,326.8 L745.0,326.8 L745.3,337.5 L745.6,337.8 L744.7,339.3 L745.1,345.6 L745.5,349.7 L745.7,349.7 L745.8,349.7 L746.0,349.7 L746.2,349.7 L746.3,349.7 L746.5,349.7 L746.6,349.7 L746.8,349.7 L747.0,349.7 L747.1,344.7 L747.5,350.2 L747.9,353.5 L748.1,362.2 L747.2,371.5 L747.5,366.5 L747.9,371.5 L748.1,377.5 L748.2,377.5 L748.4,377.5 L748.5,377.5 L748.7,377.5 L748.9,376.9 L749.0,377.5 L749.2,377.5 L749.3,377.5 L749.5,377.5 L749.7,377.5 L749.8,367.6 L750.0,367.6 L750.1,372.1 L750.3,377.5 L750.5,377.5 L750.6,377.5 L750.8,377.5 L750.9,377.5 L751.1,367.6 L751.3,372.2 L751.4,369.6 L751.6,381.8 L751.7,383.0 L751.9,383.5 L752.1,383.5 L752.2,385.8 L752.4,385.9 L752.6,387.0 L752.7,383.5 L752.9,384.0 L753.1,391.4 L753.2,391.4 L753.4,391.4 L753.5,393.6 L753.7,399.8 L753.9,401.4 L754.0,407.4 L754.2,407.4 L754.3,407.4 L754.5,407.4 L754.6,407.4 L754.8,407.4 L754.9,407.7 L755.1,413.6 L755.3,413.5 L755.4,419.8 L755.6,413.1 L755.7,416.0 L755.9,423.3 L756.0,423.3 L756.2,421.1 L756.3,423.3 L756.5,423.3 L756.7,423.3 L756.8,423.3 L757.0,423.3 L757.1,415.3 L757.3,416.0 L757.5,415.3 L757.6,417.2 L757.8,415.3 L757.9,415.3 L758.1,419.2 L758.3,429.4 L758.4,429.0 L758.6,420.8 L758.7,428.6 L758.9,432.7 L759.1,437.2 L759.2,436.0 L759.4,437.2 L759.5,437.2 L759.7,437.2 L759.8,433.2 L760.0,427.8 L760.1,421.9 L760.3,419.6 L760.4,419.3 L760.6,419.3 L760.8,423.3 L760.9,421.3 L761.1,419.7 L761.2,421.8 L761.4,419.3 L761.5,419.7 L761.7,423.3 L761.8,423.3 L762.2,423.3 L762.5,423.3 L762.8,423.3 L762.0,423.3 L762.1,418.7 L762.3,414.7 L763.4,412.4 L763.4,409.4 L763.4,413.1 L763.4,399.4 L763.6,399.4 L763.8,399.4 L763.9,403.7 L764.1,405.0 L764.2,406.6 L764.4,405.0 L764.5,414.3 L764.7,415.3 L764.9,415.3 L765.0,415.3 L765.2,415.3 L765.3,415.3 L765.5,415.3 L765.6,415.3 L765.8,415.3 L766.0,412.2 L766.1,412.9 L766.3,412.0 L766.4,407.4 L766.6,407.4 L766.7,407.4 L766.9,407.4 L767.0,411.8 L767.2,411.3 L767.3,419.3 L767.5,412.2 L767.7,410.4 L767.8,419.3 L768.0,416.9 L768.2,410.3 L768.3,415.6 L768.5,418.5 L768.7,411.9 L768.8,416.1 L769.0,410.3 L769.2,410.3 L769.3,410.4 L769.5,411.8 L769.6,410.3 L769.8,412.0 L769.9,410.6 L770.1,415.0 L770.2,419.0 L770.4,427.3 L770.6,433.3 L770.8,434.4 L770.9,435.7 L771.1,435.7 L771.3,443.5 L771.4,448.5 L771.6,445.3 L771.7,450.9 L771.9,444.8 L772.0,450.8 L772.2,449.0 L772.3,453.6 L772.5,455.7 L772.6,453.6 L772.8,453.6 L773.0,453.6 L773.1,453.6 L773.3,453.6 L773.4,470.7 L773.6,472.5 L773.7,472.5 L774.1,465.6 L774.4,470.1 L774.7,459.6 L773.8,453.9 L774.0,454.5 L774.2,449.6 L775.3,453.7 L775.3,458.4 L775.3,454.0 L775.3,449.6 L775.5,449.6 L775.6,449.6 L775.8,449.6 L776.0,449.6 L776.1,452.9 L776.3,455.6 L776.4,455.4 L776.6,455.6 L776.8,453.4 L776.9,455.6 L777.1,462.9 L777.2,467.5 L777.4,466.0 L777.5,463.4 L777.7,467.5 L777.8,467.5 L778.0,467.5 L778.2,467.0 L778.3,467.5 L778.5,467.5 L778.6,461.5 L778.8,461.0 L778.9,455.3 L779.1,464.4 L779.3,462.7 L779.4,458.0 L779.6,453.6 L779.7,453.9 L779.9,453.6 L780.1,452.1 L780.2,453.6 L780.4,453.6 L780.6,453.6 L780.7,452.4 L780.9,449.6 L781.1,442.1 L781.2,432.9 L781.4,432.1 L781.5,432.8 L781.7,427.7 L781.9,426.3 L782.0,427.7 L782.2,427.7 L782.3,423.3 L782.5,423.3 L782.6,423.3 L782.8,423.3 L783.0,423.3 L783.1,423.3 L783.3,422.0 L783.4,423.3 L783.6,419.8 L783.7,415.3 L783.9,408.9 L784.0,403.8 L784.2,409.7 L784.4,413.5 L784.5,408.4 L784.7,403.7 L784.8,401.9 L785.0,406.2 L785.2,401.4 L785.3,401.4 L785.5,395.4 L785.7,395.4 L785.8,395.4 L786.0,395.4 L786.2,395.4 L786.3,395.4 L786.5,395.4 L786.7,395.4 L786.8,395.4 L787.0,395.4 L787.1,395.4 L787.3,395.4 L787.5,402.5 L787.6,402.1 L787.8,404.1 L787.9,406.5 L788.1,401.7 L788.2,399.1 L788.4,407.2 L788.6,401.1 L788.7,409.4 L788.9,407.5 L789.0,403.4 L789.2,403.0 L789.3,402.2 L789.5,405.5 L789.7,399.9 L789.8,399.4 L790.0,399.4 L790.1,399.4 L790.3,399.4 L790.5,391.9 L790.6,387.6 L790.8,381.2 L790.9,378.9 L791.1,378.5 L791.2,387.8 L791.4,378.5 L791.5,378.5 L791.7,378.5 L792.1,378.6 L792.5,381.7 L792.7,382.9 L791.8,387.1 L792.1,396.6 L792.5,392.2 L792.9,403.4 L793.0,399.4 L793.2,403.4 L793.3,402.6 L793.5,403.4 L793.7,403.4 L793.8,403.4 L794.0,403.4 L794.1,399.4 L794.3,399.4 L794.4,402.3 L794.6,410.3 L794.7,400.6 L794.9,399.4 L795.1,403.3 L795.2,399.4 L795.4,399.4 L795.5,403.6 L795.7,410.3 L796.1,400.4 L796.4,403.3 L796.7,404.7 L795.8,404.0 L796.1,401.0 L796.5,397.3 L796.9,387.5 L797.0,387.5 L797.2,391.5 L797.3,393.8 L797.5,399.4 L797.6,399.4 L797.8,393.2 L797.9,392.9 L798.1,395.8 L798.3,399.4 L798.4,396.0 L798.6,387.7 L798.8,392.1 L798.9,384.7 L799.1,384.9 L799.3,379.5 L799.4,373.0 L799.6,379.5 L799.7,367.7 L799.9,367.7 L800.0,367.7 L800.2,367.7 L800.3,367.7 L800.5,368.4 L800.7,367.7 L800.8,380.3 L801.0,380.3 L801.1,380.7 L801.3,376.0 L801.5,373.2 L801.6,378.0 L801.8,382.4 L801.9,383.6 L802.1,379.9 L802.3,383.6 L802.4,374.7 L802.6,373.0 L802.7,371.8 L802.9,370.7 L803.1,370.7 L803.2,370.7 L803.4,370.7 L803.5,370.7 L803.7,371.5 L803.8,374.8 L804.0,371.8 L804.2,373.8 L804.3,374.8 L804.5,378.2 L804.6,381.6 L804.8,381.6 L804.9,381.6 L805.1,383.5 L805.2,381.6 L805.4,381.6 L805.6,381.6 L805.7,381.6 L805.9,381.6 L806.0,381.6 L806.2,385.6 L806.4,385.5 L806.5,395.6 L806.7,395.6 L806.8,395.6 L807.0,393.2 L807.2,395.6 L807.3,394.3 L807.5,389.2 L807.7,388.6 L807.8,388.6 L808.0,388.6 L808.1,388.6 L808.3,388.6 L808.5,388.1 L808.6,380.0 L808.8,375.3 L808.9,376.4 L809.1,373.7 L809.3,382.8 L809.4,377.7 L809.6,373.7 L809.7,373.7 L809.9,373.7 L810.1,372.8 L810.2,370.8 L810.4,372.4 L810.5,373.7 L810.7,373.7 L810.9,373.7 L811.0,373.7 L811.2,373.7 L811.3,373.7 L811.5,368.7 L811.7,368.7 L811.8,368.7 L812.0,368.7 L812.2,368.7 L812.3,368.7 L812.5,369.2 L812.7,368.7 L812.8,369.1 L813.0,379.0 L813.2,375.9 L813.3,377.8 L813.5,386.6 L813.6,386.6 L813.8,374.0 L813.9,374.4 L814.1,373.7 L814.3,373.7 L814.4,373.7 L814.6,373.7 L814.7,373.7 L814.9,373.7 L815.0,373.7 L815.2,373.7 L815.4,373.7 L815.5,373.7 L815.7,373.7 L815.8,370.7 L816.0,370.1 L816.1,364.0 L816.3,362.7 L816.5,362.7 L816.6,362.9 L816.8,364.3 L817.0,365.0 L817.1,366.7 L817.3,368.3 L817.4,369.7 L817.6,367.2 L817.8,369.7 L817.9,369.7 L818.1,369.7 L818.3,369.7 L818.4,365.8 L818.6,369.7 L818.7,369.7 L818.9,369.7 L819.1,369.7 L819.2,369.7 L819.4,369.7 L819.5,364.9 L819.7,364.4 L819.9,362.7 L820.0,368.1 L820.2,375.4 L820.3,373.1 L820.5,375.7 L820.6,375.7 L820.8,374.6 L821.0,364.0 L821.1,374.9 L821.3,375.7 L821.4,375.7 L821.6,375.7 L821.8,375.7 L821.9,377.9 L822.1,379.0 L822.2,385.6 L822.4,385.6 L822.5,379.7 L822.7,385.6 L822.8,385.6 L823.0,381.6 L823.1,385.6 L823.3,383.4 L823.5,385.6 L823.6,384.4 L823.8,377.5 L823.9,377.6 L824.1,375.7 L824.2,375.7 L824.4,375.7 L824.6,375.7 L824.7,375.7 L824.9,375.7 L825.1,374.2 L825.2,375.7 L825.4,373.1 L825.6,374.1 L825.7,366.5 L825.9,364.6 L826.1,364.5 L826.2,357.8 L826.4,357.8 L826.5,357.8 L826.7,359.8 L826.9,357.8 L827.0,360.4 L827.2,369.8 L827.3,372.9 L827.5,365.1 L827.7,366.9 L827.8,373.7 L828.0,368.9 L828.1,371.8 L828.3,372.0 L828.4,371.1 L828.6,366.5 L828.8,360.4 L828.9,355.8 L829.1,353.0 L829.2,352.7 L829.4,351.8 L829.6,353.3 L829.7,356.9 L829.9,359.8 L830.0,356.4 L830.2,355.4 L830.3,354.2 L830.5,356.3 L830.6,358.0 L830.8,359.8 L831.0,354.6 L831.1,358.0 L831.3,359.2 L831.4,349.8 L831.6,349.5 L831.8,346.8 L831.9,352.0 L832.1,349.2 L832.2,346.8 L832.4,346.8 L832.7,346.8 L833.1,346.8 L833.3,353.6 L832.5,354.7 L832.6,359.2 L832.8,365.3 L833.8,359.8 L833.8,369.0 L833.8,372.7 L833.9,372.7 L834.1,369.7 L834.3,369.7 L834.4,369.7 L834.6,369.7 L834.7,372.7 L834.9,372.7 L835.1,369.7 L835.2,369.7 L835.4,369.7 L835.5,369.7 L835.7,369.7 L835.9,369.7 L836.0,369.7 L836.2,369.7 L836.3,365.5 L836.5,359.8 L836.6,359.8 L836.8,359.8 L837.0,359.8 L837.1,359.8 L837.3,359.8 L837.4,362.3 L837.6,360.8 L837.8,361.7 L837.9,364.8 L838.1,359.8 L838.2,361.9 L838.4,365.2 L838.6,369.7 L838.7,369.7 L838.9,369.7 L839.1,369.7 L839.2,369.7 L839.4,369.7 L839.6,369.7 L839.8,377.7 L839.9,377.7 L840.1,375.0 L840.2,368.4 L840.4,374.9 L840.5,370.2 L840.7,374.8 L840.9,377.7 L841.0,374.7 L841.2,370.2 L841.3,367.7 L841.5,367.7 L841.7,367.7 L841.8,369.2 L842.0,378.5 L842.1,380.6 L842.3,378.8 L842.5,375.6 L842.6,367.3 L842.8,374.8 L842.9,361.2 L843.1,359.8 L843.3,359.8 L843.4,359.8 L843.6,359.8 L843.7,359.8 L843.9,352.1 L844.0,350.2 L844.2,345.8 L844.4,345.8 L844.5,345.8 L844.7,345.8 L844.8,345.8 L845.0,345.8 L845.2,345.8 L845.3,345.8 L845.5,341.8 L845.6,341.8 L845.8,343.8 L845.9,341.8 L846.1,343.4 L846.3,343.9 L846.4,345.8 L846.6,341.8 L846.7,341.8 L846.9,350.6 L847.1,355.9 L847.2,363.5 L846.4,358.9 L846.4,373.5 L846.4,374.5 L847.6,369.6 L847.6,371.4 L847.6,373.9 L846.8,384.0 L847.0,386.1 L847.1,394.7 L847.3,396.6 L847.5,396.6 L847.7,396.6 L847.8,396.6 L847.1,396.6 L847.1,396.6 L847.1,396.6 L848.3,396.6 L848.3,396.6 L848.3,385.6 L847.5,376.2 L847.6,366.7 L847.8,355.4 L848.2,348.2 L848.1,339.9 L848.3,330.0 L848.6,328.7 L848.7,329.8 L847.7,320.7 L847.8,315.7 L847.9,313.9 L848.5,310.7 L848.4,305.0 L848.5,305.0 L848.7,305.0 L848.8,305.0 L849.0,305.0 L849.1,305.0 L849.3,305.5 L849.5,305.5 L849.6,305.5 L849.8,311.6 L850.0,308.0 L850.1,311.0 L850.3,312.0 L850.5,320.6 L850.7,331.9 L850.9,331.9 L851.0,331.9 L851.2,331.9 L851.3,331.9 L851.5,331.9 L851.6,337.4 L851.8,339.1 L851.9,344.7 L852.1,351.8 L852.2,351.8 L852.4,351.8 L852.6,351.8 L852.7,351.8 L852.9,351.8 L853.0,344.5 L853.2,337.2 L853.4,338.6 L853.5,343.4 L853.7,334.9 L853.8,343.8 L854.0,343.8 L854.2,343.8 L854.3,343.8 L854.5,343.8 L854.6,343.8 L854.8,343.8 L855.0,343.8 L855.1,343.8 L855.3,343.8 L855.4,344.6 L855.6,351.0 L855.8,352.7 L855.9,357.0 L856.1,359.7 L856.3,363.7 L856.4,366.4 L856.6,363.8 L856.8,364.4 L856.9,365.9 L857.1,374.8 L857.3,385.6 L857.4,385.6 L857.6,379.6 L857.7,373.5 L857.9,370.4 L858.0,375.9 L858.2,375.6 L858.3,373.2 L858.5,369.7 L858.7,369.7 L858.8,369.7 L859.0,369.7 L859.1,369.7 L859.3,370.4 L859.4,369.7 L859.6,373.5 L859.7,377.7 L859.9,375.4 L860.0,377.7 L860.2,380.9 L860.4,380.3 L860.6,382.8 L860.7,381.7 L860.9,388.5 L861.1,392.5 L861.2,399.6 L861.7,412.9 L862.1,404.4 L862.2,414.9 L861.6,413.8 L862.0,423.4 L862.2,419.1 L862.4,420.2 L862.5,423.4 L862.7,419.3 L862.8,420.9 L863.0,420.9 L863.2,413.5 L863.3,415.1 L863.5,415.8 L863.6,413.5 L863.8,413.5 L864.0,430.4 L864.1,430.4 L864.3,430.1 L864.5,428.7 L864.6,430.4 L864.8,428.8 L864.9,428.8 L865.1,423.6 L865.2,427.1 L865.4,424.9 L865.6,417.9 L865.7,417.5 L865.9,417.5 L866.0,417.5 L866.2,416.4 L866.4,410.7 L866.5,407.1 L866.7,404.5 L866.9,411.9 L867.0,404.7 L867.2,403.5 L867.4,408.4 L867.5,404.0 L867.7,405.9 L867.8,407.7 L868.0,406.0 L868.1,410.0 L868.3,416.5 L868.5,423.4 L868.6,423.4 L868.8,420.5 L868.9,423.4 L869.1,419.5 L869.2,416.8 L869.4,417.7 L869.5,414.6 L869.7,414.3 L869.8,411.5 L870.0,411.5 L870.2,411.5 L870.3,411.5 L870.5,411.5 L870.7,411.5 L870.9,411.5 L871.0,411.5 L871.2,409.5 L871.4,412.3 L871.5,420.3 L871.7,427.4 L871.8,427.4 L872.0,427.4 L872.1,433.4 L872.3,430.8 L872.5,430.0 L872.6,433.4 L872.8,433.2 L872.9,433.4 L873.1,433.4 L873.3,433.4 L873.4,431.6 L873.6,433.4 L873.7,433.5 L873.9,442.0 L874.1,447.3 L874.2,446.5 L874.4,446.4 L874.6,447.3 L874.7,447.3 L874.9,447.3 L875.0,450.5 L875.2,454.5 L875.4,450.6 L875.5,452.7 L875.7,459.3 L875.8,459.2 L876.0,459.3 L876.1,465.2 L876.3,465.2 L876.4,465.2 L876.6,465.2 L876.8,465.2 L876.9,465.2 L877.1,465.2 L877.2,465.2 L877.4,465.2 L877.6,465.2 L877.7,453.6 L877.9,449.3 L878.0,453.3 L878.2,452.9 L878.3,449.3 L878.5,449.3 L878.6,451.5 L878.8,450.7 L879.0,449.3 L879.1,449.3 L879.3,449.3 L879.4,449.3 L879.6,449.3 L879.8,449.3 L879.9,449.3 L880.1,445.1 L880.2,445.1 L880.4,442.1 L880.5,439.4 L880.7,446.2 L880.9,450.6 L881.0,456.3 L881.2,450.2 L881.3,455.0 L881.5,453.5 L881.6,450.8 L881.8,447.9 L881.9,456.3 L882.3,456.3 L882.6,456.0 L882.9,449.3 L882.1,448.9 L882.2,445.9 L882.4,454.6 L883.5,446.1 L883.5,435.6 L883.5,433.8 L883.5,433.4 L883.7,431.1 L883.9,432.2 L884.0,433.4 L884.2,433.4 L884.4,429.7 L884.5,418.5 L884.7,418.5 L884.9,418.5 L885.0,418.5 L885.2,418.5 L885.4,418.5 L885.5,418.5 L885.7,423.2 L885.8,420.3 L886.0,419.7 L886.2,418.5 L886.3,418.5 L886.5,418.5 L886.6,419.5 L886.8,433.2 L887.0,435.8 L887.1,437.4 L887.3,437.4 L887.4,439.0 L887.6,442.3 L887.7,440.2 L887.9,445.1 L888.0,447.3 L888.2,440.2 L888.4,445.4 L888.5,447.3 L888.7,447.3 L888.8,447.3 L889.0,453.9 L889.2,461.2 L889.3,461.2 L889.5,461.2 L889.7,461.2 L889.8,461.2 L890.0,461.2 L890.2,460.1 L890.3,450.6 L890.5,461.2 L890.7,461.2 L890.8,461.2 L891.0,461.2 L891.2,461.2 L891.3,458.8 L891.5,460.7 L891.7,455.2 L891.8,460.5 L892.0,456.3 L892.2,453.3 L892.3,455.6 L892.5,453.3 L892.7,453.3 L892.8,450.1 L893.0,435.8 L893.2,436.8 L893.3,431.4 L893.5,431.4 L893.6,425.4 L893.8,425.4 L894.0,425.4 L894.1,425.4 L894.3,426.5 L894.5,425.4 L894.6,428.5 L894.8,425.4 L895.0,425.4 L895.1,425.4 L895.3,425.4 L895.5,425.4 L895.6,425.4 L895.8,431.4 L896.0,434.4 L896.1,432.1 L896.3,428.9 L896.4,429.9 L896.6,429.8 L896.7,434.4 L896.9,427.2 L897.1,434.4 L897.2,434.4 L897.4,434.4 L897.5,427.3 L897.7,426.5 L897.8,423.4 L898.0,424.9 L898.1,423.6 L898.3,426.7 L898.5,423.4 L898.6,423.4 L898.8,422.1 L898.9,418.2 L899.1,422.5 L899.2,415.9 L899.4,421.6 L899.5,416.6 L899.7,418.8 L899.9,415.5 L900.0,415.5 L900.2,415.5 L900.3,415.5 L900.5,415.5 L900.6,422.3 L900.8,422.1 L901.0,416.6 L901.1,421.5 L901.3,425.8 L901.4,432.4 L901.6,432.4 L901.8,432.4 L901.9,432.4 L902.1,432.4 L902.2,432.4 L902.4,432.4 L902.6,424.6 L902.7,420.1 L902.9,428.6 L903.0,417.5 L903.2,413.3 L903.3,413.8 L903.5,415.8 L903.7,417.5 L903.8,412.7 L904.0,411.8 L904.1,415.3 L904.3,406.9 L904.4,405.5 L904.6,415.4 L904.8,416.5 L904.9,416.5 L905.1,409.6 L905.3,408.3 L905.4,409.9 L905.6,407.7 L905.8,406.8 L905.9,416.5 L906.1,416.5 L906.3,415.7 L906.4,416.5 L906.6,413.0 L906.7,409.6 L906.9,407.5 L907.0,410.0 L907.2,409.6 L907.3,401.3 L907.5,398.9 L907.7,399.8 L907.8,395.6 L908.0,395.6 L908.2,393.9 L908.3,382.3 L908.5,378.7 L908.7,382.7 L908.8,385.1 L909.0,378.7 L909.2,379.7 L909.3,379.0 L909.5,378.7 L909.7,378.7 L909.8,378.7 L910.0,378.7 L910.2,378.7 L910.3,378.7 L910.5,378.7 L910.7,378.7 L910.8,379.7 L911.0,379.7 L911.1,385.2 L911.3,379.7 L911.5,379.7 L911.6,382.5 L911.8,393.3 L911.9,393.6 L912.1,393.6 L912.2,390.5 L912.4,393.6 L912.5,398.4 L912.7,393.6 L912.9,394.4 L913.0,397.7 L913.2,399.6 L913.3,395.0 L913.5,398.5 L913.6,393.6 L913.8,399.6 L914.1,396.8 L914.4,387.0 L914.7,390.9 L913.9,393.8 L914.0,386.7 L914.2,395.4 L915.3,386.4 L915.4,384.6 L915.4,387.7 L915.4,371.7 L915.5,380.3 L915.7,383.0 L915.9,386.0 L916.0,383.2 L916.2,388.1 L916.3,385.1 L916.5,382.9 L916.6,383.5 L916.8,379.8 L917.0,391.6 L917.1,383.4 L917.3,378.4 L917.4,375.7 L917.6,375.7 L917.7,378.3 L917.9,381.9 L918.0,379.4 L918.2,376.4 L918.4,375.7 L918.8,374.0 L919.2,371.7 L919.4,362.6 L918.5,349.8 L918.9,350.7 L919.4,349.8 L919.5,354.7 L919.7,359.9 L919.8,360.5 L920.0,358.4 L920.1,359.9 L920.3,362.1 L920.5,362.1 L920.6,357.5 L920.8,359.1 L920.9,365.7 L921.3,363.5 L921.6,364.1 L921.9,353.2 L921.0,352.5 L921.2,352.4 L921.4,346.1 L922.4,337.1 L922.4,339.8 L922.3,335.9 L922.5,335.6 L922.6,330.3 L922.8,330.7 L923.0,325.9 L923.1,314.6 L923.3,306.3 L923.4,296.7 L923.6,296.7 L923.7,290.7 L923.9,290.7 L924.1,290.7 L924.2,290.7 L924.4,290.7 L924.6,291.3 L924.7,290.7 L924.9,290.7 L925.0,289.8 L925.2,286.2 L925.3,283.3 L925.5,283.3 L925.6,283.3 L925.8,288.4 L925.9,292.2 L926.1,295.3 L926.2,299.7 L926.4,299.7 L926.5,299.7 L926.7,299.7 L927.1,303.4 L927.5,299.7 L927.7,300.2 L926.8,303.1 L927.2,311.5 L927.6,322.8 L928.1,322.6 L928.4,317.2 L928.6,308.4 L927.9,301.8 L928.3,299.7 L928.5,288.0 L928.6,288.1 L928.8,287.8 L928.9,291.0 L929.1,288.9 L929.2,289.1 L929.4,284.8 L929.8,279.4 L930.1,266.8 L930.4,264.7 L929.5,270.4 L929.8,268.4 L930.2,267.6 L930.6,259.4 L930.7,259.4 L930.9,256.2 L931.0,257.2 L931.2,254.3 L931.3,245.6 L931.5,247.8 L931.6,244.5 L931.8,240.3 L932.0,237.7 L932.2,240.4 L932.4,241.1 L932.5,246.4 L932.7,247.0 L933.1,253.5 L933.4,256.0 L933.6,254.0 L932.7,256.4 L932.9,259.9 L933.2,266.1 L933.6,278.8 L933.8,270.6 L934.1,272.3 L934.3,261.2 L933.4,256.5 L933.5,254.7 L933.5,243.4 L934.7,234.6 L934.7,236.1 L934.6,237.6 L934.2,238.0 L934.5,234.6 L934.6,234.6 L934.8,231.6 L935.0,219.8 L935.2,222.1 L935.3,218.5 L935.5,217.2 L935.7,218.5 L935.8,218.5 L936.0,218.5 L936.1,218.5 L936.3,217.2 L936.4,217.8 L936.6,217.2 L937.0,217.2 L937.3,217.2 L937.5,226.5 L936.6,229.1 L936.9,233.9 L937.3,242.1 L937.6,236.1 L937.8,221.1 L938.0,217.9 L937.0,216.4 L937.1,214.6 L937.3,216.8 L938.0,212.1 L937.8,209.8 L938.1,209.2 L938.3,198.2 L938.4,198.4 L937.5,198.6 L937.5,193.6 L937.6,194.4 L938.5,189.7 L938.4,175.5 L938.2,172.4 L938.4,171.8 L938.6,171.8 L938.7,171.8 L938.9,172.0 L939.1,171.8 L939.2,173.1 L939.4,180.9 L939.5,190.0 L939.7,191.1 L939.9,185.7 L940.0,183.0 L940.2,183.0 L940.4,183.0 L940.5,183.0 L940.7,183.0 L940.9,191.5 L941.1,199.1 L941.3,207.4 L940.4,216.7 L940.5,216.5 L940.5,222.3 L941.6,225.9 L941.5,225.9 L941.4,225.9 L941.3,225.9 L941.6,220.4 L941.9,209.6 L942.1,208.4 L941.2,204.3 L941.3,200.8 L941.5,198.7 L942.4,198.6 L942.4,191.4 L942.3,186.7 L942.5,186.7 L942.7,186.7 L942.8,186.7 L943.0,187.4 L943.2,187.4 L943.4,188.2 L943.7,194.5 L943.8,190.3 L942.8,197.4 L942.9,205.8 L943.1,209.3 L943.7,220.5 L943.6,222.2 L943.7,225.5 L943.9,235.6 L944.1,240.5 L944.2,240.6 L944.4,240.8 L944.7,257.2 L944.9,258.0 L945.0,261.5 L944.0,261.6 L944.1,266.0 L944.3,268.4 L944.6,269.9 L944.8,269.9 L944.9,269.9 L945.1,269.9 L945.3,269.9 L945.4,269.9 L945.6,275.4 L945.8,286.3 L945.9,294.4 L946.1,296.7 L946.2,296.7 L946.4,296.7 L946.5,296.7 L946.7,292.3 L946.8,296.7 L947.0,296.7 L947.1,296.7 L947.3,296.0 L947.4,285.7 L947.6,280.3 L947.8,278.8 L947.9,280.3 L948.1,280.3 L948.3,280.3 L948.4,280.3 L948.6,280.3 L948.8,278.8 L949.2,278.8 L949.6,285.6 L949.7,294.1 L949.0,302.7 L949.5,302.7 L949.7,306.8 L949.8,302.7 L950.0,311.6 L950.1,310.7 L950.3,313.9 L950.4,316.1 L950.6,317.6 L950.7,317.6 L950.9,317.6 L951.1,317.6 L951.2,317.6 L951.4,317.6 L951.6,329.5 L951.8,329.6 L951.9,325.9 L952.1,319.3 L952.2,319.1 L952.4,315.1 L952.5,310.1 L952.7,305.7 L952.8,304.2 L953.0,307.5 L953.1,293.0 L953.3,289.3 L953.4,287.3 L953.6,286.0 L953.8,275.4 L953.9,279.8 L954.1,275.4 L954.3,274.5 L954.4,272.1 L954.6,272.1 L954.7,278.8 L954.9,277.8 L955.0,281.8 L955.2,289.3 L955.3,291.7 L955.5,294.5 L955.6,296.2 L955.8,310.1 L955.9,310.1 L956.1,310.1 L956.2,310.1 L956.4,310.1 L956.6,310.9 L956.8,310.2 L956.9,310.1 L957.1,319.9 L957.3,322.8 L957.4,323.6 L957.6,323.6 L957.7,323.6 L957.9,328.1 L958.0,328.1 L958.2,328.1 L958.3,325.4 L958.5,328.1 L958.6,328.1 L958.8,328.1 L958.9,328.1 L959.1,328.1 L959.2,328.1 L959.4,326.0 L959.5,314.6 L959.7,314.6 L959.8,314.6 L960.0,318.3 L960.1,320.5 L960.3,314.6 L960.4,325.1 L960.8,315.0 L961.1,310.9 L961.4,299.7 L960.5,302.8 L960.7,301.6 L961.1,302.9 L961.5,299.7 L961.6,298.0 L961.8,297.7 L961.9,289.3 L962.1,290.3 L962.2,294.0 L962.4,290.6 L962.5,289.3 L962.7,292.8 L962.8,302.7 L963.0,302.7 L963.1,302.7 L963.3,302.7 L963.4,302.7 L963.6,302.7 L963.7,302.7 L963.9,302.7 L964.0,303.3 L964.1,308.5 L964.3,312.0 L964.4,314.6 L964.6,314.6 L964.7,314.6 L964.9,313.8 L965.0,314.6 L965.2,303.4 L965.3,308.5 L965.5,299.7 L965.8,306.6 L966.0,309.0 L966.2,317.4 L965.3,319.9 L965.4,317.1 L965.5,325.3 L966.6,328.6 L966.5,331.6 L966.5,334.4 L966.4,342.2 L966.5,342.2 L966.7,342.2 L966.8,337.0 L967.0,337.0 L967.1,337.0 L967.3,337.0 L967.4,337.0 L967.6,331.4 L967.7,332.9 L967.9,327.1 L968.0,321.9 L968.2,317.6 L968.3,307.4 L968.5,310.7 L968.7,311.0 L968.9,307.5 L969.0,304.2 L969.2,304.2 L969.4,304.2 L969.5,304.2 L969.7,302.5 L969.8,304.2 L970.0,303.7 L970.1,296.7 L970.3,296.7 L970.4,296.7 L970.6,295.0 L970.7,291.8 L970.9,293.5 L971.0,292.1 L971.2,289.3 L971.3,289.3 L971.5,289.3 L971.6,289.3 L971.8,289.3 L972.0,289.3 L972.1,284.2 L972.3,278.4 L972.5,277.3 L972.7,277.3 L972.8,268.1 L973.0,275.5 L973.1,276.9 L973.3,273.1 L973.4,273.6 L973.6,271.4 L973.7,266.9 L973.9,266.9 L974.0,266.9 L974.1,262.9 L974.3,260.6 L974.4,261.2 L974.6,256.4 L974.7,262.8 L974.9,256.4 L975.0,265.2 L975.2,269.6 L975.3,263.8 L975.5,263.9 L975.6,269.9 L975.8,267.7 L975.9,260.1 L976.1,260.1 L976.2,269.4 L976.4,260.1 L976.5,264.8 L976.7,266.4 L976.8,267.4 L977.0,266.8 L977.1,266.6 L977.3,273.9 L977.4,278.8 L977.6,269.9 L977.7,275.1 L977.9,264.5 L978.0,264.8 L978.2,262.4 L978.3,268.4 L978.5,269.7 L978.6,275.0 L978.8,274.2 L978.9,279.0 L979.1,280.3 L979.2,291.3 L979.4,286.7 L979.5,292.2 L979.7,292.2 L979.8,292.2 L980.0,290.6 L980.1,292.2 L980.3,292.2 L980.5,292.2 L980.6,292.2 L980.8,292.2 L981.0,298.4 L981.1,300.6 L981.3,305.7 L981.5,306.3 L981.6,308.8 L981.8,307.5 L981.9,305.7 L982.1,305.7 L982.2,311.2 L982.4,317.6 L982.5,325.7 L982.7,328.7 L982.8,328.7 L983.0,320.5 L983.1,325.1 L983.3,329.6 L983.4,329.6 L983.6,329.6 L983.7,329.6 L983.9,329.6 L984.1,329.6 L984.3,329.6 L984.4,320.4 L984.6,314.6 L984.8,312.3 L984.9,314.6 L985.1,310.4 L985.3,307.9 L985.4,302.7 L985.6,302.7 L985.8,302.7 L985.9,302.7 L986.1,302.7 L986.2,298.9 L986.4,295.4 L986.5,291.2 L986.7,290.7 L986.8,290.7 L987.0,283.3 L987.1,283.3 L987.3,283.3 L987.4,283.3 L987.6,283.3 L987.7,283.3 L987.9,283.3 L988.1,284.6 L988.2,283.3 L988.4,283.3 L988.6,283.3 L988.7,284.1 L988.9,283.3 L989.1,296.7 L989.2,299.5 L989.4,297.0 L989.6,296.7 L989.8,296.7 L989.9,296.7 L990.1,306.4 L990.3,307.2 L990.4,307.2 L990.6,297.2 L990.7,293.9 L990.9,301.6 L991.0,292.2 L991.2,292.2 L991.3,292.2 L991.5,284.8 L991.6,284.8 L991.8,284.8 L991.9,284.8 L992.1,284.8 L992.2,284.8 L992.4,284.8 L992.5,280.6 L992.7,277.0 L992.8,270.3 L993.0,271.7 L993.1,266.9 L993.3,266.9 L993.6,270.9 L994.0,272.4 L994.2,281.8 L993.3,290.2 L993.6,285.2 L993.9,290.7 L994.3,290.7 L994.7,281.9 L995.0,281.8 L995.3,272.8 L994.4,270.4 L994.6,265.4 L995.0,270.2 L995.3,265.4 L995.8,265.4 L996.1,265.4 L996.4,265.4 L995.5,268.3 L995.8,273.2 L996.1,283.4 L996.5,289.3 L996.7,289.3 L996.9,289.6 L997.0,289.3 L997.2,289.3 L997.4,290.7 L997.6,290.7 L997.7,290.7 L997.9,290.7 L998.0,290.7 L998.2,291.4 L998.3,290.7 L998.5,290.7 L998.6,290.9 L998.8,292.2 L998.9,281.4 L999.1,286.4 L999.2,289.3 L999.4,283.2 L999.5,285.8 L999.7,288.2 L999.8,277.3 L1000.0,277.3 L1000.1,277.3 L1000.3,277.3 L1000.4,276.6 L1000.6,276.3 L1000.7,268.4 L1000.9,269.5 L1001.0,276.7 L1001.2,278.8 L1001.3,278.8" fill="none" stroke="#ff0000" stroke-width="3.6" stroke-linejoin="round" stroke-linecap="round"/>
<line x1="60" x2="1004" y1="276.4" y2="276.4" stroke="#059ae0" stroke-width="3.1"/>
</svg>
</body></html>
